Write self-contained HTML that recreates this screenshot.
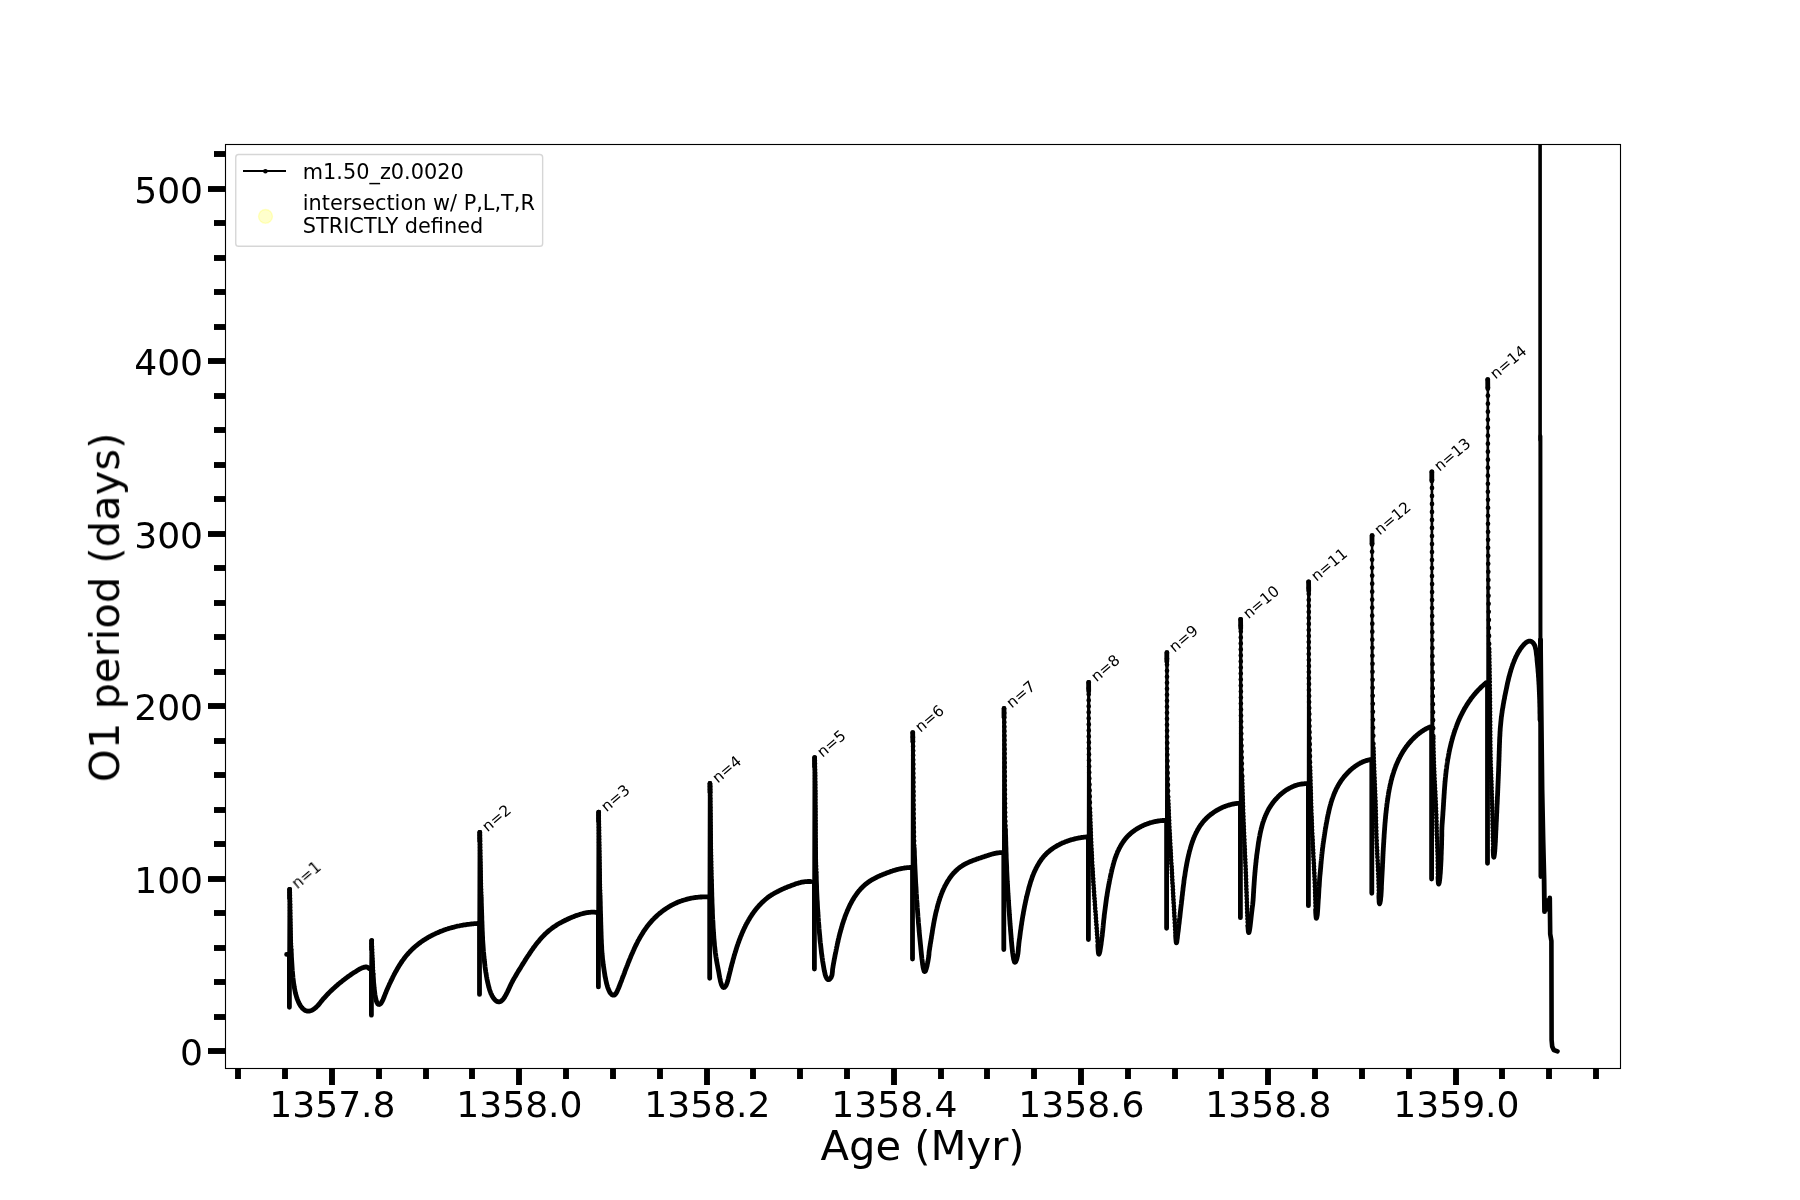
<!DOCTYPE html>
<html lang="en"><head><meta charset="utf-8"><title>O1 period vs Age</title>
<style>html,body{margin:0;padding:0;background:#fff;width:1800px;height:1200px;overflow:hidden}</style>
</head><body>
<svg width="1800" height="1200" viewBox="0 0 1800 1200" style="display:block;font-family:'DejaVu Sans', 'Liberation Sans', sans-serif">
<rect width="1800" height="1200" fill="#fff"/>
<defs><clipPath id="ax"><rect x="225" y="144" width="1395" height="924"/></clipPath></defs>
<g clip-path="url(#ax)" fill="none" stroke="#000" stroke-linecap="round" stroke-linejoin="round">
<path stroke-width="4.8" d="M286.6,954.4 L289.4,954.4 M291.1,950.0L291.2,951.5L291.3,953.0L291.4,954.6L291.4,956.1L291.5,957.6L291.6,959.2L291.7,960.8L291.8,962.4L291.9,964.0L292.0,965.6L292.1,967.2L292.2,968.9L292.3,970.5L292.5,972.2L292.6,973.9L292.8,975.5L292.9,977.2L293.1,978.8L293.3,980.4L293.5,982.1L293.7,983.7L294.0,985.3L294.2,986.8L294.5,988.4L294.8,989.9L295.1,991.4L295.4,992.9L295.8,994.3L296.2,995.7L296.6,997.1L297.0,998.4L297.5,999.7L298.0,1000.9L298.5,1002.1L299.0,1003.2L299.6,1004.3L300.2,1005.3L300.8,1006.2L301.5,1007.1L302.2,1008.0L302.9,1008.7L303.6,1009.3L304.4,1009.9L305.2,1010.4L306.0,1010.7L306.9,1011.0L307.7,1011.1L308.6,1011.1L309.5,1011.0L310.4,1010.8L311.3,1010.5L312.2,1010.1L313.1,1009.6L314.0,1009.0L314.8,1008.4L315.7,1007.7L316.5,1006.9L317.3,1006.1L318.1,1005.3L318.9,1004.4L319.6,1003.5L320.3,1002.6L321.1,1001.6L321.8,1000.7L322.6,999.7L323.5,998.7L324.3,997.8L325.2,996.8L326.1,995.8L327.0,994.8L328.0,993.9L328.9,992.9L329.9,991.9L330.9,990.9L331.9,990.0L332.9,989.0L334.0,988.1L335.0,987.1L336.0,986.2L337.1,985.3L338.1,984.4L339.2,983.5L340.2,982.7L341.3,981.8L342.3,981.0L343.3,980.2L344.4,979.4L345.4,978.6L346.5,977.8L347.5,977.0L348.6,976.2L349.7,975.5L350.7,974.8L351.8,974.0L352.9,973.3L354.0,972.6L355.1,971.9L356.2,971.2L357.3,970.5L358.4,969.8L359.5,969.2L360.6,968.6L361.7,968.1L362.7,967.7L363.7,967.4L364.7,967.1L365.6,967.0L366.4,967.0L367.2,967.1L367.9,967.4L368.5,967.9L369.0,968.5 M373.1,974.2L373.3,976.9L373.5,979.6L373.6,982.3L373.9,985.0L374.1,987.6L374.4,990.1L374.7,992.6L375.0,994.9L375.4,997.0L375.8,998.9L376.2,1000.6L376.7,1002.0L377.3,1003.1L377.8,1004.0L378.5,1004.4L379.1,1004.5L379.9,1004.2L380.6,1003.6L381.3,1002.8L381.9,1001.8L382.5,1000.7L383.1,999.5L383.6,998.2L384.1,997.0L384.5,995.8L385.0,994.6L385.4,993.5L385.9,992.4L386.3,991.3L386.7,990.3L387.2,989.3L387.6,988.3L388.1,987.3L388.5,986.2L389.0,985.2L389.4,984.2L389.9,983.2L390.4,982.2L390.9,981.1L391.4,980.1L391.9,979.1L392.4,978.1L392.9,977.0L393.4,976.0L393.9,975.0L394.4,973.9L395.0,972.9L395.5,971.9L396.1,970.9L396.7,969.9L397.2,968.9L397.8,967.9L398.4,966.9L399.0,965.9L399.7,964.9L400.3,963.9L400.9,963.0L401.6,962.0L402.2,961.0L402.9,960.1L403.6,959.2L404.3,958.2L405.0,957.3L405.7,956.4L406.4,955.5L407.2,954.6L407.9,953.8L408.7,952.9L409.5,952.1L410.3,951.2L411.1,950.4L411.9,949.6L412.7,948.8L413.5,948.1L414.4,947.3L415.3,946.5L416.1,945.8L417.0,945.1L417.9,944.4L418.8,943.7L419.7,943.0L420.6,942.3L421.6,941.6L422.5,941.0L423.5,940.3L424.4,939.7L425.4,939.1L426.4,938.5L427.4,937.9L428.3,937.3L429.3,936.7L430.4,936.2L431.4,935.7L432.4,935.1L433.4,934.6L434.5,934.1L435.5,933.6L436.6,933.1L437.6,932.7L438.7,932.2L439.7,931.8L440.8,931.3L441.9,930.9L443.0,930.5L444.0,930.1L445.1,929.7L446.2,929.3L447.3,929.0L448.4,928.6L449.5,928.3L450.6,928.0L451.8,927.7L452.9,927.3L454.0,927.1L455.1,926.8L456.2,926.5L457.4,926.2L458.5,926.0L459.6,925.8L460.7,925.5L461.9,925.3L463.0,925.1L464.1,924.9L465.3,924.8L466.4,924.6L467.5,924.4L468.7,924.3L469.8,924.2L470.9,924.0L472.1,923.9L473.2,923.8L474.3,923.7L475.4,923.7L476.6,923.6L477.7,923.5L478.8,923.5 M481.2,897.8L481.3,899.4L481.3,901.0L481.3,902.5L481.4,904.1L481.4,905.6L481.5,907.2L481.5,908.7L481.6,910.3L481.6,911.8L481.7,913.3L481.7,914.9L481.8,916.4L481.8,917.9L481.8,919.4L481.9,920.9L482.0,922.5L482.0,924.0L482.1,925.5L482.1,927.0L482.2,928.5L482.2,930.0L482.3,931.5L482.4,932.9L482.4,934.4L482.5,935.9L482.6,937.4L482.6,938.9L482.7,940.3L482.8,941.8L482.9,943.3L483.0,944.7L483.1,946.2L483.2,947.7L483.3,949.1L483.4,950.6L483.5,952.0L483.7,953.5L483.8,954.9L483.9,956.4L484.1,957.8L484.2,959.3L484.4,960.7L484.5,962.1L484.7,963.6L484.9,965.0L485.0,966.5L485.2,967.9L485.4,969.3L485.6,970.8L485.8,972.2L486.1,973.6L486.3,975.0L486.5,976.4L486.8,977.8L487.0,979.2L487.3,980.6L487.6,981.9L487.9,983.2L488.2,984.5L488.5,985.8L488.8,987.1L489.2,988.3L489.5,989.4L489.9,990.6L490.3,991.7L490.7,992.8L491.1,993.8L491.6,994.7L492.0,995.7L492.5,996.5L493.0,997.4L493.5,998.1L494.0,998.8L494.6,999.5L495.2,1000.1L495.7,1000.6L496.4,1001.0L497.0,1001.4L497.6,1001.6L498.2,1001.8L498.9,1001.9L499.5,1001.8L500.2,1001.6L500.8,1001.3L501.5,1000.9L502.1,1000.3L502.7,999.7L503.3,999.0L503.8,998.3L504.4,997.5L504.9,996.6L505.4,995.8L505.9,994.9L506.4,993.9L506.9,993.0L507.4,992.0L507.9,990.9L508.4,989.9L508.9,988.8L509.4,987.7L509.9,986.6L510.4,985.5L510.9,984.4L511.5,983.2L512.1,982.1L512.7,980.9L513.3,979.7L514.0,978.6L514.7,977.4L515.4,976.2L516.1,975.0L516.8,973.8L517.5,972.6L518.2,971.4L519.0,970.2L519.7,969.0L520.5,967.8L521.2,966.6L521.9,965.4L522.7,964.2L523.4,963.0L524.2,961.8L524.9,960.6L525.7,959.4L526.4,958.2L527.2,957.1L527.9,955.9L528.7,954.8L529.5,953.6L530.2,952.5L531.0,951.3L531.8,950.2L532.6,949.1L533.3,948.0L534.1,946.9L534.9,945.9L535.7,944.8L536.5,943.8L537.3,942.8L538.1,941.8L539.0,940.8L539.8,939.8L540.6,938.8L541.4,937.9L542.3,937.0L543.1,936.1L544.0,935.2L544.9,934.3L545.7,933.5L546.6,932.7L547.5,931.9L548.4,931.1L549.3,930.3L550.2,929.6L551.2,928.9L552.1,928.2L553.0,927.5L554.0,926.8L554.9,926.2L555.9,925.6L556.8,924.9L557.8,924.3L558.8,923.7L559.8,923.2L560.8,922.6L561.8,922.1L562.8,921.5L563.9,921.0L564.9,920.5L565.9,920.0L567.0,919.5L568.0,919.0L569.1,918.5L570.2,918.0L571.3,917.6L572.3,917.1L573.4,916.7L574.5,916.2L575.6,915.8L576.8,915.4L577.9,915.0L579.0,914.7L580.1,914.3L581.2,914.0L582.3,913.7L583.4,913.4L584.6,913.1L585.7,912.9L586.8,912.7L587.9,912.5L589.0,912.4L590.1,912.3L591.2,912.2L592.2,912.2L593.3,912.2L594.4,912.2L595.4,912.3L596.5,912.4L597.5,912.6 M600.1,895.9L600.1,897.5L600.2,899.1L600.2,900.6L600.3,902.2L600.3,903.8L600.3,905.3L600.4,906.9L600.4,908.5L600.4,910.1L600.5,911.6L600.5,913.2L600.6,914.8L600.6,916.4L600.7,918.0L600.7,919.6L600.7,921.2L600.8,922.8L600.8,924.4L600.9,926.1L600.9,927.7L601.0,929.4L601.0,931.0L601.1,932.6L601.1,934.3L601.2,935.9L601.2,937.5L601.3,939.1L601.4,940.7L601.4,942.3L601.5,943.9L601.6,945.4L601.7,947.0L601.7,948.5L601.8,949.9L601.9,951.4L602.0,952.8L602.1,954.2L602.3,955.5L602.4,956.9L602.5,958.2L602.6,959.4L602.8,960.7L602.9,961.9L603.1,963.2L603.2,964.4L603.4,965.7L603.6,966.9L603.8,968.2L604.0,969.5L604.2,970.8L604.4,972.1L604.6,973.4L604.8,974.7L605.0,976.1L605.3,977.4L605.6,978.7L605.8,980.0L606.1,981.3L606.4,982.6L606.7,983.8L607.0,985.0L607.4,986.1L607.7,987.3L608.1,988.3L608.5,989.3L608.9,990.3L609.3,991.2L609.7,992.0L610.1,992.7L610.6,993.4L611.1,993.9L611.6,994.4L612.1,994.8L612.6,995.0L613.1,995.2L613.6,995.2L614.1,995.2L614.5,995.0L614.9,994.7L615.3,994.3L615.7,993.8L616.1,993.2L616.5,992.6L616.9,991.8L617.3,991.1L617.6,990.2L618.0,989.4L618.4,988.5L618.8,987.5L619.2,986.5L619.6,985.5L620.0,984.5L620.4,983.4L620.8,982.3L621.3,981.2L621.7,980.1L622.1,978.9L622.6,977.7L623.0,976.5L623.5,975.3L624.0,974.0L624.5,972.8L624.9,971.5L625.4,970.2L625.9,968.9L626.4,967.6L626.9,966.2L627.5,964.9L628.0,963.5L628.5,962.2L629.1,960.8L629.6,959.5L630.2,958.1L630.7,956.8L631.3,955.4L631.9,954.0L632.5,952.7L633.1,951.3L633.7,950.0L634.3,948.6L634.9,947.3L635.5,946.0L636.2,944.7L636.8,943.4L637.5,942.1L638.1,940.8L638.8,939.6L639.5,938.3L640.2,937.1L640.9,935.9L641.6,934.8L642.3,933.6L643.0,932.5L643.7,931.3L644.5,930.3L645.2,929.2L646.0,928.1L646.7,927.1L647.5,926.1L648.3,925.1L649.1,924.1L649.9,923.1L650.7,922.2L651.5,921.2L652.3,920.3L653.2,919.4L654.0,918.6L654.8,917.7L655.7,916.9L656.6,916.1L657.4,915.3L658.3,914.5L659.2,913.7L660.1,913.0L661.0,912.3L661.9,911.5L662.8,910.9L663.7,910.2L664.7,909.5L665.6,908.9L666.5,908.3L667.5,907.7L668.4,907.1L669.4,906.5L670.4,905.9L671.3,905.4L672.3,904.9L673.3,904.4L674.3,903.9L675.3,903.4L676.2,903.0L677.2,902.5L678.2,902.1L679.2,901.7L680.2,901.3L681.2,901.0L682.3,900.6L683.3,900.3L684.3,900.0L685.3,899.7L686.3,899.4L687.3,899.1L688.3,898.8L689.4,898.6L690.4,898.4L691.4,898.2L692.4,898.0L693.4,897.8L694.5,897.6L695.5,897.5L696.5,897.4L697.5,897.3L698.5,897.2L699.5,897.1L700.5,897.0L701.5,897.0L702.5,896.9L703.5,896.9L704.5,896.9L705.5,896.9L706.5,896.9L707.5,896.9L708.5,897.0 M711.4,880.7L711.5,882.8L711.6,884.9L711.6,887.0L711.7,889.2L711.7,891.3L711.8,893.4L711.8,895.5L711.9,897.7L712.0,899.8L712.0,901.9L712.1,904.1L712.2,906.2L712.3,908.3L712.4,910.5L712.4,912.7L712.5,914.8L712.6,917.0L712.7,919.2L712.9,921.4L713.0,923.6L713.1,925.8L713.2,928.1L713.4,930.3L713.5,932.5L713.7,934.8L713.8,937.0L714.0,939.2L714.2,941.3L714.4,943.4L714.5,945.5L714.8,947.5L715.0,949.5L715.2,951.3L715.4,953.1L715.7,954.9L715.9,956.6L716.2,958.2L716.4,959.8L716.7,961.4L717.0,963.0L717.3,964.6L717.6,966.1L717.9,967.7L718.2,969.2L718.5,970.8L718.8,972.4L719.1,974.1L719.4,975.8L719.7,977.5L720.1,979.2L720.4,980.8L720.8,982.4L721.2,983.8L721.6,985.0L722.1,986.0L722.6,986.8L723.2,987.3L723.7,987.5L724.3,987.4L724.9,987.0L725.5,986.3L726.0,985.5L726.5,984.4L727.0,983.2L727.4,981.9L727.8,980.5L728.2,979.1L728.5,977.8L728.8,976.5L729.1,975.3L729.4,974.1L729.7,973.1L729.9,972.1L730.2,971.1L730.4,970.2L730.6,969.4L730.8,968.5L731.0,967.7L731.2,966.9L731.4,966.1L731.6,965.3L731.8,964.5L732.0,963.7L732.3,962.9L732.5,962.1L732.7,961.3L732.9,960.5L733.1,959.7L733.3,958.9L733.6,958.1L733.8,957.3L734.0,956.5L734.2,955.7L734.5,954.9L734.7,954.0L735.0,953.2L735.2,952.4L735.5,951.6L735.7,950.8L736.0,950.0L736.2,949.1L736.5,948.3L736.7,947.5L737.0,946.7L737.3,945.9L737.5,945.1L737.8,944.3L738.1,943.4L738.4,942.6L738.7,941.8L739.0,941.0L739.3,940.2L739.6,939.4L739.9,938.6L740.2,937.8L740.5,937.0L740.8,936.2L741.2,935.4L741.5,934.6L741.8,933.8L742.2,933.0L742.5,932.2L742.9,931.4L743.2,930.6L743.6,929.8L743.9,929.0L744.3,928.2L744.7,927.5L745.1,926.7L745.4,925.9L745.8,925.1L746.2,924.4L746.6,923.6L747.0,922.8L747.5,922.1L747.9,921.3L748.3,920.6L748.7,919.8L749.2,919.1L749.6,918.3L750.1,917.6L750.5,916.9L751.0,916.2L751.5,915.4L751.9,914.7L752.4,914.0L752.9,913.3L753.4,912.6L753.9,911.9L754.4,911.2L754.9,910.6L755.4,909.9L756.0,909.2L756.5,908.5L757.1,907.9L757.6,907.2L758.2,906.6L758.7,906.0L759.3,905.3L759.9,904.7L760.5,904.1L761.1,903.5L761.7,902.9L762.3,902.3L762.9,901.7L763.5,901.1L764.2,900.6L764.8,900.0L765.4,899.5L766.1,898.9L766.8,898.4L767.4,897.8L768.1,897.3L768.8,896.8L769.5,896.3L770.2,895.8L770.9,895.4L771.6,894.9L772.4,894.4L773.1,894.0L773.9,893.5L774.6,893.1L775.4,892.7L776.1,892.3L776.9,891.9L777.7,891.5L778.5,891.1L779.2,890.7L780.0,890.3L780.8,889.9L781.6,889.6L782.4,889.2L783.2,888.8L784.0,888.5L784.8,888.1L785.6,887.8L786.4,887.5L787.2,887.1L788.0,886.8L788.8,886.5L789.6,886.2L790.4,885.9L791.2,885.6L792.0,885.3L792.8,885.0L793.6,884.7L794.4,884.4L795.2,884.1L796.0,883.8L796.8,883.5L797.6,883.3L798.4,883.1L799.2,882.8L800.1,882.6L800.9,882.4L801.7,882.2L802.6,882.1L803.5,881.9L804.3,881.8L805.2,881.7L806.2,881.6L807.1,881.6L808.0,881.5L809.0,881.5L810.0,881.5L811.0,881.6 M816.1,872.6L816.2,874.9L816.3,877.1L816.3,879.4L816.4,881.6L816.5,883.9L816.6,886.1L816.6,888.4L816.7,890.6L816.8,892.8L816.9,895.1L817.0,897.3L817.1,899.6L817.3,901.8L817.4,904.0L817.5,906.3L817.6,908.5L817.8,910.7L817.9,913.0L818.1,915.2L818.2,917.4L818.4,919.6L818.5,921.7L818.7,923.9L818.9,926.0L819.0,928.2L819.2,930.3L819.4,932.4L819.6,934.5L819.8,936.5L819.9,938.5L820.1,940.5L820.3,942.5L820.6,944.4L820.8,946.4L821.0,948.2L821.2,950.1L821.4,951.9L821.6,953.7L821.9,955.5L822.1,957.3L822.4,959.0L822.6,960.8L822.9,962.6L823.2,964.3L823.5,966.1L823.8,967.8L824.1,969.6L824.4,971.2L824.8,972.7L825.1,974.2L825.5,975.5L825.9,976.7L826.4,977.7L826.8,978.5L827.3,979.2L827.8,979.5L828.3,979.7L828.9,979.6L829.4,979.4L829.9,979.0L830.4,978.4L830.9,977.7L831.3,977.0L831.6,976.2L831.9,975.4L832.1,974.5L832.2,973.7L832.3,972.8L832.4,971.9L832.5,971.0L832.5,970.2L832.6,969.3L832.7,968.5L832.9,967.6L833.0,966.8L833.1,965.9L833.3,965.1L833.4,964.2L833.6,963.4L833.7,962.6L833.9,961.7L834.0,960.9L834.2,960.1L834.3,959.2L834.5,958.4L834.7,957.6L834.8,956.7L835.0,955.9L835.1,955.1L835.3,954.2L835.5,953.4L835.6,952.6L835.8,951.8L836.0,950.9L836.1,950.1L836.3,949.3L836.5,948.4L836.6,947.6L836.8,946.8L837.0,946.0L837.2,945.1L837.3,944.3L837.5,943.5L837.7,942.7L837.9,941.9L838.1,941.0L838.2,940.2L838.4,939.4L838.6,938.6L838.8,937.8L839.0,936.9L839.2,936.1L839.4,935.3L839.6,934.5L839.8,933.7L840.0,932.9L840.3,932.0L840.5,931.2L840.7,930.4L840.9,929.6L841.2,928.8L841.4,928.0L841.6,927.2L841.9,926.4L842.1,925.5L842.3,924.7L842.6,923.9L842.8,923.1L843.1,922.3L843.4,921.5L843.6,920.7L843.9,919.9L844.2,919.1L844.5,918.3L844.7,917.5L845.0,916.7L845.3,915.9L845.6,915.1L845.9,914.3L846.2,913.5L846.6,912.7L846.9,911.9L847.2,911.1L847.5,910.3L847.9,909.6L848.2,908.8L848.6,908.0L848.9,907.2L849.3,906.5L849.6,905.7L850.0,904.9L850.4,904.2L850.8,903.4L851.2,902.7L851.6,901.9L852.0,901.2L852.4,900.4L852.8,899.7L853.3,899.0L853.7,898.3L854.1,897.6L854.6,896.8L855.1,896.1L855.5,895.5L856.0,894.8L856.5,894.1L857.0,893.4L857.5,892.8L858.0,892.1L858.5,891.4L859.1,890.8L859.6,890.2L860.2,889.5L860.7,888.9L861.3,888.3L861.9,887.7L862.4,887.1L863.0,886.6L863.6,886.0L864.3,885.4L864.9,884.9L865.5,884.3L866.2,883.8L866.8,883.3L867.5,882.8L868.2,882.3L868.9,881.8L869.6,881.3L870.3,880.8L871.0,880.4L871.7,879.9L872.5,879.5L873.2,879.1L874.0,878.7L874.7,878.3L875.5,877.9L876.3,877.5L877.0,877.1L877.8,876.7L878.6,876.3L879.4,876.0L880.2,875.6L881.0,875.3L881.8,875.0L882.6,874.6L883.4,874.3L884.1,874.0L884.9,873.7L885.7,873.4L886.5,873.1L887.3,872.8L888.1,872.5L888.9,872.2L889.7,871.9L890.5,871.6L891.3,871.3L892.1,871.1L892.9,870.8L893.6,870.5L894.4,870.3L895.2,870.1L896.0,869.8L896.8,869.6L897.6,869.4L898.5,869.2L899.3,869.0L900.1,868.8L901.0,868.6L901.8,868.5L902.7,868.3L903.5,868.2L904.4,868.0L905.3,867.9L906.2,867.8L907.1,867.7L908.1,867.6L909.0,867.6L910.0,867.5L911.0,867.5 M914.2,847.8L914.3,849.8L914.4,851.9L914.4,854.0L914.5,856.0L914.6,858.1L914.7,860.2L914.7,862.3L914.8,864.3L914.9,866.4L915.0,868.5L915.1,870.6L915.2,872.6L915.3,874.7L915.4,876.8L915.5,878.9L915.6,881.0L915.7,883.0L915.8,885.1L916.0,887.2L916.1,889.3L916.2,891.4L916.3,893.4L916.5,895.5L916.6,897.6L916.7,899.7L916.9,901.7L917.0,903.8L917.2,905.9L917.3,907.9L917.5,910.0L917.6,912.1L917.8,914.1L917.9,916.2L918.1,918.3L918.3,920.3L918.4,922.4L918.6,924.4L918.8,926.5L919.0,928.5L919.1,930.6L919.3,932.6L919.5,934.7L919.7,936.7L919.9,938.7L920.1,940.8L920.3,942.8L920.5,944.8L920.7,946.8L920.9,948.9L921.1,950.9L921.3,952.9L921.5,954.9L921.7,956.9L921.9,958.8L922.2,960.7L922.4,962.6L922.6,964.3L922.9,965.9L923.1,967.3L923.4,968.6L923.7,969.7L923.9,970.5L924.2,971.2L924.5,971.5L924.9,971.5L925.2,971.3L925.6,970.7L925.9,969.8L926.3,968.7L926.7,967.2L927.1,965.6L927.4,963.9L927.8,962.1L928.1,960.4L928.4,958.7L928.6,957.2L928.8,955.9L928.9,954.9L929.0,953.9L929.0,953.1L929.1,952.2L929.2,951.4L929.3,950.5L929.5,949.7L929.6,948.9L929.7,948.1L929.8,947.2L930.0,946.4L930.1,945.6L930.2,944.8L930.3,944.0L930.5,943.2L930.6,942.4L930.7,941.6L930.9,940.8L931.0,940.0L931.1,939.2L931.3,938.4L931.4,937.6L931.5,936.8L931.6,936.0L931.8,935.2L931.9,934.4L932.0,933.6L932.2,932.8L932.3,932.0L932.4,931.2L932.5,930.4L932.7,929.5L932.8,928.7L932.9,927.9L933.1,927.1L933.2,926.3L933.4,925.5L933.5,924.7L933.6,923.9L933.8,923.1L933.9,922.3L934.1,921.5L934.2,920.7L934.4,919.9L934.5,919.1L934.7,918.3L934.9,917.5L935.0,916.7L935.2,915.9L935.4,915.1L935.5,914.3L935.7,913.5L935.9,912.7L936.1,911.9L936.3,911.1L936.5,910.3L936.7,909.5L936.9,908.8L937.1,908.0L937.3,907.2L937.5,906.4L937.7,905.6L937.9,904.8L938.1,904.0L938.4,903.2L938.6,902.4L938.8,901.6L939.1,900.9L939.3,900.1L939.6,899.3L939.8,898.5L940.1,897.7L940.4,896.9L940.7,896.2L940.9,895.4L941.2,894.6L941.5,893.8L941.8,893.1L942.1,892.3L942.4,891.5L942.8,890.8L943.1,890.0L943.4,889.3L943.8,888.5L944.1,887.8L944.5,887.0L944.8,886.3L945.2,885.6L945.6,884.9L946.0,884.1L946.4,883.4L946.8,882.7L947.2,882.0L947.6,881.3L948.0,880.6L948.5,879.9L948.9,879.3L949.3,878.6L949.8,877.9L950.3,877.3L950.7,876.6L951.2,876.0L951.7,875.4L952.2,874.7L952.7,874.1L953.3,873.5L953.8,872.9L954.3,872.3L954.9,871.8L955.5,871.2L956.0,870.6L956.6,870.1L957.2,869.6L957.8,869.0L958.4,868.5L959.0,868.0L959.7,867.5L960.3,867.0L961.0,866.6L961.7,866.1L962.3,865.7L963.0,865.2L963.7,864.8L964.4,864.4L965.2,864.0L965.9,863.6L966.6,863.3L967.4,862.9L968.1,862.5L968.9,862.2L969.7,861.8L970.4,861.5L971.2,861.2L972.0,860.9L972.8,860.6L973.6,860.3L974.4,860.0L975.2,859.7L976.0,859.4L976.8,859.1L977.6,858.8L978.4,858.6L979.2,858.3L980.0,858.0L980.8,857.8L981.6,857.5L982.4,857.2L983.2,857.0L983.9,856.7L984.7,856.4L985.5,856.2L986.3,855.9L987.0,855.7L987.8,855.4L988.5,855.2L989.3,854.9L990.1,854.7L990.8,854.5L991.6,854.2L992.3,854.0L993.1,853.8L993.9,853.6L994.7,853.5L995.4,853.3L996.2,853.1L997.0,853.0L997.8,852.9L998.6,852.8L999.5,852.7L1000.3,852.7L1001.1,852.6L1002.0,852.6 M1005.5,829.4L1005.5,831.6L1005.5,833.7L1005.6,835.9L1005.7,838.0L1005.7,840.2L1005.8,842.3L1005.8,844.4L1005.9,846.6L1006.0,848.7L1006.0,850.8L1006.1,852.9L1006.2,855.0L1006.2,857.1L1006.3,859.2L1006.4,861.3L1006.5,863.3L1006.6,865.4L1006.7,867.5L1006.7,869.5L1006.8,871.6L1006.9,873.6L1007.0,875.7L1007.1,877.7L1007.2,879.8L1007.3,881.8L1007.5,883.9L1007.6,885.9L1007.7,887.9L1007.8,890.0L1007.9,892.0L1008.0,894.1L1008.2,896.1L1008.3,898.2L1008.4,900.3L1008.6,902.3L1008.7,904.4L1008.8,906.5L1009.0,908.6L1009.1,910.6L1009.3,912.7L1009.4,914.8L1009.6,917.0L1009.7,919.1L1009.9,921.2L1010.0,923.3L1010.2,925.5L1010.4,927.6L1010.5,929.8L1010.7,932.0L1010.9,934.2L1011.1,936.4L1011.2,938.5L1011.4,940.7L1011.6,942.8L1011.8,944.9L1012.0,946.9L1012.2,948.9L1012.4,950.8L1012.6,952.6L1012.9,954.4L1013.1,956.0L1013.4,957.6L1013.6,959.0L1013.9,960.1L1014.2,961.1L1014.4,961.8L1014.7,962.2L1015.1,962.3L1015.4,962.1L1015.7,961.7L1016.0,961.0L1016.4,960.2L1016.7,959.3L1017.0,958.2L1017.2,957.1L1017.5,956.0L1017.7,954.9L1017.9,953.9L1018.0,952.9L1018.1,952.0L1018.2,951.2L1018.3,950.4L1018.3,949.7L1018.4,948.9L1018.4,948.2L1018.5,947.4L1018.6,946.6L1018.7,945.8L1018.8,945.0L1018.8,944.2L1018.9,943.4L1019.0,942.6L1019.1,941.8L1019.2,940.9L1019.3,940.1L1019.4,939.3L1019.6,938.5L1019.7,937.7L1019.8,936.8L1019.9,936.0L1020.0,935.2L1020.1,934.4L1020.2,933.6L1020.3,932.8L1020.4,932.0L1020.5,931.2L1020.6,930.3L1020.8,929.5L1020.9,928.7L1021.0,927.9L1021.1,927.1L1021.2,926.3L1021.3,925.5L1021.5,924.7L1021.6,923.9L1021.7,923.1L1021.8,922.3L1021.9,921.5L1022.1,920.7L1022.2,919.9L1022.3,919.1L1022.4,918.3L1022.6,917.5L1022.7,916.7L1022.8,916.0L1023.0,915.2L1023.1,914.4L1023.3,913.6L1023.4,912.8L1023.5,912.0L1023.7,911.2L1023.8,910.4L1024.0,909.6L1024.1,908.8L1024.3,908.0L1024.4,907.2L1024.6,906.5L1024.7,905.7L1024.9,904.9L1025.1,904.1L1025.2,903.3L1025.4,902.5L1025.6,901.7L1025.7,900.9L1025.9,900.1L1026.1,899.3L1026.3,898.5L1026.4,897.7L1026.6,897.0L1026.8,896.2L1027.0,895.4L1027.2,894.6L1027.4,893.8L1027.6,893.0L1027.8,892.2L1028.0,891.4L1028.2,890.6L1028.4,889.8L1028.6,889.0L1028.8,888.2L1029.0,887.4L1029.2,886.6L1029.5,885.8L1029.7,885.0L1029.9,884.3L1030.2,883.5L1030.4,882.7L1030.6,881.9L1030.9,881.1L1031.2,880.3L1031.4,879.6L1031.7,878.8L1032.0,878.0L1032.2,877.2L1032.5,876.5L1032.8,875.7L1033.1,874.9L1033.4,874.2L1033.7,873.4L1034.0,872.7L1034.3,871.9L1034.7,871.2L1035.0,870.5L1035.4,869.7L1035.7,869.0L1036.1,868.3L1036.4,867.6L1036.8,866.9L1037.2,866.1L1037.6,865.4L1038.0,864.8L1038.4,864.1L1038.8,863.4L1039.2,862.7L1039.6,862.0L1040.1,861.4L1040.5,860.7L1041.0,860.1L1041.4,859.4L1041.9,858.8L1042.4,858.2L1042.9,857.5L1043.4,856.9L1043.9,856.3L1044.4,855.7L1045.0,855.2L1045.5,854.6L1046.1,854.0L1046.6,853.4L1047.2,852.9L1047.8,852.4L1048.4,851.8L1049.0,851.3L1049.6,850.8L1050.3,850.3L1050.9,849.8L1051.6,849.3L1052.2,848.8L1052.9,848.4L1053.6,847.9L1054.3,847.4L1055.0,847.0L1055.7,846.6L1056.4,846.2L1057.1,845.7L1057.8,845.3L1058.5,845.0L1059.3,844.6L1060.0,844.2L1060.7,843.8L1061.5,843.5L1062.2,843.1L1063.0,842.8L1063.8,842.5L1064.5,842.2L1065.3,841.8L1066.1,841.5L1066.9,841.3L1067.6,841.0L1068.4,840.7L1069.2,840.4L1070.0,840.2L1070.8,839.9L1071.6,839.7L1072.3,839.5L1073.1,839.3L1073.9,839.1L1074.7,838.9L1075.5,838.7L1076.3,838.5L1077.1,838.3L1077.8,838.2L1078.6,838.0L1079.4,837.9L1080.2,837.8L1080.9,837.6L1081.7,837.5L1082.5,837.4L1083.3,837.3L1084.0,837.2L1084.8,837.2L1085.5,837.1L1086.3,837.0L1087.0,837.0 M1097.9,946.1L1098.0,947.6L1098.1,949.1L1098.2,950.5L1098.3,951.8L1098.4,952.8L1098.6,953.6L1098.7,954.1L1098.9,954.2L1099.2,953.9L1099.4,953.2L1099.7,952.3L1100.0,951.0L1100.2,949.5L1100.5,947.9L1100.8,946.0L1101.1,944.1L1101.3,942.1L1101.6,940.2L1101.8,938.2L1102.1,936.4L1102.3,934.7L1102.4,933.2L1102.6,931.9L1102.7,930.8L1102.8,929.9L1102.9,929.1L1102.9,928.4L1103.0,927.8L1103.1,927.1L1103.1,926.4L1103.2,925.8L1103.3,925.0L1103.3,924.3L1103.4,923.6L1103.5,922.8L1103.6,922.1L1103.6,921.3L1103.7,920.5L1103.8,919.8L1103.9,919.0L1104.0,918.2L1104.1,917.4L1104.2,916.6L1104.2,915.9L1104.3,915.1L1104.4,914.3L1104.5,913.5L1104.6,912.8L1104.7,912.0L1104.8,911.2L1104.9,910.5L1105.0,909.7L1105.1,909.0L1105.2,908.2L1105.3,907.4L1105.4,906.7L1105.5,905.9L1105.6,905.2L1105.7,904.4L1105.8,903.7L1105.9,902.9L1106.0,902.2L1106.1,901.4L1106.2,900.7L1106.3,899.9L1106.4,899.2L1106.5,898.4L1106.6,897.7L1106.7,896.9L1106.9,896.2L1107.0,895.4L1107.1,894.7L1107.2,894.0L1107.3,893.2L1107.4,892.5L1107.6,891.7L1107.7,891.0L1107.8,890.2L1107.9,889.5L1108.1,888.8L1108.2,888.0L1108.3,887.3L1108.5,886.5L1108.6,885.8L1108.7,885.0L1108.9,884.3L1109.0,883.6L1109.2,882.8L1109.3,882.1L1109.4,881.3L1109.6,880.6L1109.7,879.8L1109.9,879.1L1110.0,878.3L1110.2,877.6L1110.4,876.8L1110.5,876.1L1110.7,875.3L1110.8,874.6L1111.0,873.8L1111.2,873.1L1111.3,872.3L1111.5,871.6L1111.7,870.8L1111.8,870.1L1112.0,869.3L1112.2,868.6L1112.4,867.8L1112.6,867.1L1112.8,866.3L1113.0,865.6L1113.2,864.8L1113.4,864.1L1113.6,863.4L1113.8,862.6L1114.0,861.9L1114.2,861.1L1114.5,860.4L1114.7,859.7L1114.9,858.9L1115.2,858.2L1115.4,857.5L1115.7,856.8L1116.0,856.1L1116.2,855.3L1116.5,854.6L1116.8,853.9L1117.1,853.2L1117.3,852.5L1117.6,851.8L1117.9,851.1L1118.3,850.5L1118.6,849.8L1118.9,849.1L1119.2,848.4L1119.6,847.8L1119.9,847.1L1120.3,846.4L1120.7,845.8L1121.0,845.2L1121.4,844.5L1121.8,843.9L1122.2,843.3L1122.6,842.6L1123.0,842.0L1123.5,841.4L1123.9,840.8L1124.3,840.2L1124.8,839.6L1125.2,839.0L1125.7,838.5L1126.2,837.9L1126.7,837.3L1127.2,836.8L1127.7,836.3L1128.2,835.7L1128.8,835.2L1129.3,834.7L1129.9,834.2L1130.4,833.7L1131.0,833.2L1131.6,832.7L1132.2,832.2L1132.8,831.7L1133.4,831.3L1134.0,830.8L1134.6,830.4L1135.2,829.9L1135.9,829.5L1136.5,829.1L1137.2,828.7L1137.8,828.3L1138.5,827.9L1139.2,827.5L1139.8,827.2L1140.5,826.8L1141.2,826.4L1141.9,826.1L1142.6,825.8L1143.3,825.4L1144.0,825.1L1144.7,824.8L1145.4,824.5L1146.2,824.2L1146.9,824.0L1147.6,823.7L1148.4,823.4L1149.1,823.2L1149.8,822.9L1150.6,822.7L1151.3,822.5L1152.1,822.3L1152.8,822.1L1153.6,821.9L1154.3,821.7L1155.1,821.6L1155.8,821.4L1156.6,821.3L1157.4,821.1L1158.1,821.0L1158.9,820.9L1159.7,820.8L1160.4,820.7L1161.2,820.6L1161.9,820.6L1162.7,820.5L1163.5,820.5L1164.2,820.4L1165.0,820.4 M1175.6,935.5L1175.7,936.8L1175.8,938.1L1175.9,939.3L1176.0,940.4L1176.1,941.4L1176.2,942.2L1176.3,942.7L1176.4,942.9L1176.5,942.9L1176.6,942.5L1176.8,941.9L1176.9,941.1L1177.0,940.1L1177.2,938.9L1177.4,937.6L1177.5,936.1L1177.7,934.6L1177.9,932.9L1178.2,931.1L1178.4,929.3L1178.6,927.4L1178.8,925.5L1179.1,923.5L1179.3,921.5L1179.5,919.5L1179.8,917.5L1180.0,915.6L1180.2,913.6L1180.4,911.7L1180.6,909.9L1180.8,908.2L1181.0,906.5L1181.2,904.9L1181.4,903.5L1181.5,902.2L1181.6,901.0L1181.8,900.0L1181.9,899.1L1182.0,898.2L1182.0,897.4L1182.1,896.7L1182.2,896.0L1182.3,895.3L1182.4,894.6L1182.5,893.8L1182.5,893.1L1182.6,892.4L1182.7,891.7L1182.8,891.0L1182.9,890.3L1183.0,889.5L1183.0,888.8L1183.1,888.1L1183.2,887.4L1183.3,886.6L1183.4,885.9L1183.5,885.2L1183.6,884.5L1183.7,883.7L1183.8,883.0L1183.9,882.3L1183.9,881.6L1184.0,880.8L1184.1,880.1L1184.2,879.4L1184.3,878.7L1184.4,877.9L1184.5,877.2L1184.7,876.5L1184.8,875.8L1184.9,875.0L1185.0,874.3L1185.1,873.6L1185.2,872.8L1185.3,872.1L1185.4,871.4L1185.6,870.6L1185.7,869.9L1185.8,869.2L1185.9,868.5L1186.0,867.7L1186.2,867.0L1186.3,866.3L1186.4,865.5L1186.6,864.8L1186.7,864.1L1186.8,863.4L1187.0,862.6L1187.1,861.9L1187.3,861.2L1187.4,860.4L1187.6,859.7L1187.7,859.0L1187.9,858.3L1188.0,857.5L1188.2,856.8L1188.4,856.1L1188.5,855.4L1188.7,854.6L1188.9,853.9L1189.1,853.2L1189.2,852.5L1189.4,851.7L1189.6,851.0L1189.8,850.3L1190.0,849.6L1190.2,848.9L1190.4,848.1L1190.6,847.4L1190.8,846.7L1191.0,846.0L1191.2,845.3L1191.4,844.6L1191.7,843.9L1191.9,843.2L1192.1,842.5L1192.4,841.8L1192.6,841.1L1192.9,840.4L1193.1,839.7L1193.4,839.0L1193.7,838.3L1193.9,837.6L1194.2,837.0L1194.5,836.3L1194.8,835.6L1195.1,834.9L1195.4,834.3L1195.7,833.6L1196.0,833.0L1196.4,832.3L1196.7,831.7L1197.0,831.0L1197.4,830.4L1197.7,829.7L1198.1,829.1L1198.5,828.5L1198.8,827.9L1199.2,827.2L1199.6,826.6L1200.0,826.0L1200.4,825.4L1200.8,824.8L1201.3,824.2L1201.7,823.7L1202.1,823.1L1202.6,822.5L1203.0,821.9L1203.5,821.4L1204.0,820.8L1204.5,820.3L1205.0,819.7L1205.5,819.2L1206.0,818.7L1206.5,818.1L1207.1,817.6L1207.6,817.1L1208.2,816.6L1208.7,816.1L1209.3,815.6L1209.9,815.2L1210.5,814.7L1211.0,814.2L1211.7,813.8L1212.3,813.3L1212.9,812.9L1213.5,812.5L1214.1,812.0L1214.8,811.6L1215.4,811.2L1216.0,810.8L1216.7,810.4L1217.3,810.0L1218.0,809.7L1218.7,809.3L1219.3,809.0L1220.0,808.6L1220.7,808.3L1221.3,808.0L1222.0,807.6L1222.7,807.3L1223.4,807.0L1224.1,806.8L1224.7,806.5L1225.4,806.2L1226.1,806.0L1226.8,805.7L1227.5,805.5L1228.2,805.3L1228.9,805.1L1229.6,804.9L1230.3,804.7L1230.9,804.5L1231.6,804.3L1232.3,804.2L1233.0,804.0L1233.7,803.9L1234.4,803.8L1235.0,803.7L1235.7,803.6L1236.4,803.5L1237.0,803.4L1237.7,803.4L1238.3,803.3L1239.0,803.3 M1247.9,925.6L1248.0,927.1L1248.1,928.6L1248.2,929.9L1248.3,931.0L1248.4,931.9L1248.6,932.4L1248.7,932.6L1248.9,932.5L1249.1,932.0L1249.3,931.3L1249.5,930.4L1249.7,929.2L1249.9,927.9L1250.1,926.4L1250.3,924.8L1250.5,923.0L1250.7,921.3L1250.9,919.5L1251.1,917.6L1251.3,915.8L1251.5,914.0L1251.7,912.3L1251.9,910.6L1252.1,908.9L1252.3,907.3L1252.5,905.9L1252.7,904.5L1252.8,903.3L1252.9,902.2L1253.0,901.2L1253.1,900.4L1253.1,899.6L1253.2,898.9L1253.2,898.1L1253.3,897.4L1253.3,896.7L1253.4,896.0L1253.4,895.2L1253.4,894.5L1253.5,893.8L1253.5,893.1L1253.6,892.3L1253.6,891.6L1253.7,890.9L1253.7,890.2L1253.7,889.4L1253.8,888.7L1253.8,888.0L1253.9,887.3L1253.9,886.5L1254.0,885.8L1254.0,885.1L1254.1,884.4L1254.1,883.7L1254.2,882.9L1254.2,882.2L1254.3,881.5L1254.3,880.8L1254.4,880.1L1254.4,879.3L1254.5,878.6L1254.5,877.9L1254.6,877.2L1254.6,876.5L1254.7,875.7L1254.8,875.0L1254.8,874.3L1254.9,873.6L1254.9,872.9L1255.0,872.1L1255.1,871.4L1255.1,870.7L1255.2,870.0L1255.3,869.3L1255.3,868.5L1255.4,867.8L1255.5,867.1L1255.5,866.4L1255.6,865.7L1255.7,865.0L1255.8,864.2L1255.8,863.5L1255.9,862.8L1256.0,862.1L1256.1,861.4L1256.1,860.6L1256.2,859.9L1256.3,859.2L1256.4,858.5L1256.5,857.8L1256.6,857.1L1256.6,856.3L1256.7,855.6L1256.8,854.9L1256.9,854.2L1257.0,853.5L1257.1,852.8L1257.2,852.0L1257.3,851.3L1257.4,850.6L1257.5,849.9L1257.6,849.2L1257.7,848.5L1257.8,847.7L1257.9,847.0L1258.0,846.3L1258.1,845.6L1258.2,844.9L1258.3,844.1L1258.4,843.4L1258.5,842.7L1258.6,842.0L1258.7,841.3L1258.9,840.6L1259.0,839.9L1259.1,839.1L1259.2,838.4L1259.4,837.7L1259.5,837.0L1259.6,836.3L1259.8,835.6L1259.9,834.9L1260.0,834.2L1260.2,833.5L1260.3,832.7L1260.5,832.0L1260.6,831.3L1260.8,830.6L1261.0,829.9L1261.1,829.2L1261.3,828.5L1261.5,827.8L1261.7,827.1L1261.8,826.5L1262.0,825.8L1262.2,825.1L1262.4,824.4L1262.6,823.7L1262.8,823.0L1263.0,822.3L1263.3,821.6L1263.5,821.0L1263.7,820.3L1264.0,819.6L1264.2,819.0L1264.5,818.3L1264.7,817.6L1265.0,817.0L1265.2,816.3L1265.5,815.6L1265.8,815.0L1266.1,814.3L1266.4,813.7L1266.7,813.0L1267.0,812.4L1267.3,811.8L1267.6,811.1L1267.9,810.5L1268.3,809.9L1268.6,809.2L1269.0,808.6L1269.3,808.0L1269.7,807.4L1270.1,806.8L1270.5,806.2L1270.9,805.6L1271.3,805.0L1271.7,804.4L1272.1,803.8L1272.5,803.2L1273.0,802.6L1273.4,802.0L1273.9,801.4L1274.3,800.9L1274.8,800.3L1275.3,799.8L1275.8,799.2L1276.3,798.7L1276.8,798.1L1277.3,797.6L1277.8,797.1L1278.3,796.5L1278.8,796.0L1279.4,795.5L1279.9,795.0L1280.4,794.5L1281.0,794.1L1281.6,793.6L1282.1,793.1L1282.7,792.7L1283.3,792.2L1283.9,791.8L1284.4,791.3L1285.0,790.9L1285.6,790.5L1286.2,790.1L1286.8,789.7L1287.5,789.3L1288.1,789.0L1288.7,788.6L1289.3,788.3L1289.9,787.9L1290.6,787.6L1291.2,787.3L1291.9,787.0L1292.5,786.7L1293.2,786.4L1293.8,786.1L1294.5,785.9L1295.1,785.6L1295.8,785.4L1296.5,785.2L1297.1,785.0L1297.8,784.8L1298.5,784.6L1299.1,784.5L1299.8,784.3L1300.5,784.2L1301.2,784.1L1301.9,784.0L1302.6,783.9L1303.2,783.8L1303.9,783.8L1304.6,783.7L1305.3,783.7L1306.0,783.7L1306.7,783.7 M1315.7,910.7L1315.7,912.4L1315.8,913.9L1315.9,915.3L1316.0,916.4L1316.1,917.3L1316.2,917.9L1316.3,918.3L1316.5,918.3L1316.6,918.0L1316.8,917.4L1316.9,916.7L1317.1,915.7L1317.3,914.7L1317.4,913.6L1317.5,912.3L1317.6,911.0L1317.7,909.5L1317.8,908.0L1317.9,906.4L1318.0,904.7L1318.1,903.0L1318.2,901.2L1318.3,899.4L1318.5,897.5L1318.6,895.6L1318.7,893.7L1318.8,891.8L1318.9,889.9L1319.0,888.0L1319.2,886.2L1319.3,884.4L1319.4,882.7L1319.5,881.1L1319.6,879.5L1319.7,878.1L1319.8,876.9L1319.9,875.7L1320.0,874.7L1320.1,873.9L1320.2,873.1L1320.2,872.4L1320.3,871.7L1320.4,871.1L1320.4,870.4L1320.5,869.7L1320.5,869.0L1320.6,868.3L1320.7,867.7L1320.7,867.0L1320.8,866.3L1320.8,865.6L1320.9,865.0L1320.9,864.3L1321.0,863.6L1321.1,863.0L1321.1,862.3L1321.2,861.6L1321.2,860.9L1321.3,860.3L1321.4,859.6L1321.4,858.9L1321.5,858.3L1321.6,857.6L1321.6,856.9L1321.7,856.3L1321.8,855.6L1321.8,854.9L1321.9,854.2L1322.0,853.6L1322.1,852.9L1322.1,852.2L1322.2,851.6L1322.3,850.9L1322.4,850.2L1322.4,849.6L1322.5,848.9L1322.6,848.2L1322.7,847.5L1322.8,846.9L1322.9,846.2L1322.9,845.5L1323.0,844.9L1323.1,844.2L1323.2,843.5L1323.3,842.9L1323.4,842.2L1323.5,841.5L1323.6,840.9L1323.7,840.2L1323.8,839.5L1323.9,838.8L1324.0,838.2L1324.1,837.5L1324.2,836.8L1324.3,836.2L1324.4,835.5L1324.5,834.8L1324.6,834.2L1324.7,833.5L1324.8,832.8L1324.9,832.2L1325.0,831.5L1325.1,830.8L1325.2,830.2L1325.3,829.5L1325.4,828.8L1325.5,828.2L1325.7,827.5L1325.8,826.8L1325.9,826.2L1326.0,825.5L1326.1,824.8L1326.2,824.2L1326.4,823.5L1326.5,822.8L1326.6,822.2L1326.7,821.5L1326.9,820.8L1327.0,820.2L1327.1,819.5L1327.2,818.8L1327.4,818.2L1327.5,817.5L1327.6,816.8L1327.8,816.2L1327.9,815.5L1328.0,814.9L1328.2,814.2L1328.3,813.5L1328.5,812.9L1328.6,812.2L1328.8,811.6L1328.9,810.9L1329.1,810.2L1329.2,809.6L1329.4,808.9L1329.5,808.3L1329.7,807.6L1329.9,807.0L1330.0,806.3L1330.2,805.7L1330.4,805.0L1330.6,804.4L1330.8,803.7L1330.9,803.1L1331.1,802.4L1331.3,801.8L1331.5,801.2L1331.7,800.5L1331.9,799.9L1332.1,799.3L1332.4,798.6L1332.6,798.0L1332.8,797.4L1333.0,796.7L1333.3,796.1L1333.5,795.5L1333.7,794.9L1334.0,794.2L1334.2,793.6L1334.5,793.0L1334.8,792.4L1335.0,791.8L1335.3,791.2L1335.6,790.6L1335.9,789.9L1336.1,789.3L1336.4,788.7L1336.7,788.1L1337.1,787.5L1337.4,787.0L1337.7,786.4L1338.0,785.8L1338.3,785.2L1338.7,784.6L1339.0,784.0L1339.4,783.4L1339.7,782.9L1340.1,782.3L1340.5,781.7L1340.8,781.2L1341.2,780.6L1341.6,780.0L1342.0,779.5L1342.4,778.9L1342.8,778.4L1343.3,777.8L1343.7,777.3L1344.1,776.8L1344.5,776.2L1345.0,775.7L1345.4,775.2L1345.9,774.7L1346.3,774.2L1346.8,773.7L1347.3,773.2L1347.7,772.7L1348.2,772.2L1348.7,771.7L1349.2,771.2L1349.7,770.8L1350.2,770.3L1350.7,769.8L1351.2,769.4L1351.7,769.0L1352.2,768.5L1352.7,768.1L1353.3,767.7L1353.8,767.3L1354.3,766.9L1354.9,766.5L1355.4,766.1L1356.0,765.7L1356.5,765.3L1357.1,765.0L1357.6,764.6L1358.2,764.3L1358.7,764.0L1359.3,763.6L1359.9,763.3L1360.4,763.0L1361.0,762.7L1361.6,762.5L1362.2,762.2L1362.7,761.9L1363.3,761.7L1363.9,761.4L1364.5,761.2L1365.1,761.0L1365.7,760.8L1366.3,760.6L1366.9,760.4L1367.5,760.3L1368.1,760.1L1368.7,760.0L1369.3,759.8L1369.9,759.7L1370.5,759.6 M1378.9,895.5L1378.9,897.3L1379.0,898.9L1379.1,900.3L1379.1,901.5L1379.2,902.5L1379.3,903.2L1379.5,903.6L1379.6,903.7L1379.8,903.4L1380.0,902.9L1380.1,902.2L1380.3,901.3L1380.5,900.2L1380.6,899.1L1380.7,897.8L1380.9,896.5L1381.0,895.0L1381.1,893.5L1381.2,891.9L1381.3,890.2L1381.4,888.5L1381.4,886.7L1381.5,884.8L1381.6,882.9L1381.7,881.0L1381.8,879.0L1381.9,877.1L1382.0,875.2L1382.1,873.3L1382.2,871.4L1382.3,869.6L1382.4,867.9L1382.5,866.2L1382.5,864.7L1382.6,863.3L1382.7,862.0L1382.7,860.9L1382.8,859.9L1382.8,859.0L1382.8,858.3L1382.9,857.6L1382.9,856.9L1382.9,856.2L1383.0,855.5L1383.0,854.8L1383.0,854.1L1383.1,853.4L1383.1,852.7L1383.1,852.0L1383.2,851.3L1383.2,850.6L1383.3,849.9L1383.3,849.2L1383.3,848.5L1383.4,847.9L1383.4,847.2L1383.5,846.5L1383.5,845.8L1383.5,845.1L1383.6,844.4L1383.6,843.7L1383.7,843.1L1383.7,842.4L1383.8,841.7L1383.8,841.0L1383.8,840.3L1383.9,839.6L1383.9,838.9L1384.0,838.3L1384.0,837.6L1384.1,836.9L1384.1,836.2L1384.1,835.5L1384.2,834.8L1384.2,834.1L1384.3,833.4L1384.3,832.8L1384.4,832.1L1384.4,831.4L1384.5,830.7L1384.5,830.0L1384.6,829.3L1384.6,828.6L1384.7,827.9L1384.7,827.3L1384.8,826.6L1384.8,825.9L1384.9,825.2L1384.9,824.5L1385.0,823.8L1385.0,823.1L1385.1,822.4L1385.2,821.8L1385.2,821.1L1385.3,820.4L1385.3,819.7L1385.4,819.0L1385.5,818.3L1385.5,817.6L1385.6,816.9L1385.6,816.3L1385.7,815.6L1385.8,814.9L1385.8,814.2L1385.9,813.5L1386.0,812.8L1386.1,812.1L1386.1,811.5L1386.2,810.8L1386.3,810.1L1386.4,809.4L1386.4,808.7L1386.5,808.0L1386.6,807.3L1386.7,806.7L1386.8,806.0L1386.8,805.3L1386.9,804.6L1387.0,803.9L1387.1,803.2L1387.2,802.6L1387.3,801.9L1387.4,801.2L1387.5,800.5L1387.6,799.8L1387.7,799.1L1387.8,798.5L1387.9,797.8L1388.0,797.1L1388.1,796.4L1388.2,795.7L1388.3,795.1L1388.4,794.4L1388.5,793.7L1388.6,793.0L1388.7,792.3L1388.9,791.7L1389.0,791.0L1389.1,790.3L1389.2,789.6L1389.4,788.9L1389.5,788.3L1389.6,787.6L1389.8,786.9L1389.9,786.2L1390.1,785.6L1390.2,784.9L1390.4,784.2L1390.5,783.6L1390.7,782.9L1390.8,782.2L1391.0,781.6L1391.1,780.9L1391.3,780.2L1391.5,779.6L1391.7,778.9L1391.8,778.2L1392.0,777.6L1392.2,776.9L1392.4,776.3L1392.6,775.6L1392.8,774.9L1393.0,774.3L1393.2,773.6L1393.4,773.0L1393.6,772.3L1393.8,771.7L1394.0,771.0L1394.2,770.4L1394.5,769.7L1394.7,769.1L1394.9,768.5L1395.2,767.8L1395.4,767.2L1395.6,766.5L1395.9,765.9L1396.1,765.3L1396.4,764.6L1396.7,764.0L1396.9,763.4L1397.2,762.7L1397.5,762.1L1397.8,761.5L1398.1,760.9L1398.3,760.2L1398.6,759.6L1398.9,759.0L1399.2,758.4L1399.6,757.8L1399.9,757.1L1400.2,756.5L1400.5,755.9L1400.9,755.3L1401.2,754.7L1401.5,754.1L1401.9,753.5L1402.2,752.9L1402.6,752.3L1402.9,751.7L1403.3,751.1L1403.7,750.6L1404.1,750.0L1404.4,749.4L1404.8,748.8L1405.2,748.2L1405.6,747.7L1406.0,747.1L1406.4,746.6L1406.8,746.0L1407.3,745.4L1407.7,744.9L1408.1,744.3L1408.5,743.8L1409.0,743.3L1409.4,742.7L1409.9,742.2L1410.3,741.7L1410.8,741.2L1411.2,740.7L1411.7,740.1L1412.2,739.6L1412.7,739.1L1413.1,738.7L1413.6,738.2L1414.1,737.7L1414.6,737.2L1415.1,736.7L1415.6,736.3L1416.2,735.8L1416.7,735.4L1417.2,734.9L1417.7,734.5L1418.3,734.1L1418.8,733.6L1419.3,733.2L1419.9,732.8L1420.4,732.4L1421.0,732.0L1421.6,731.6L1422.1,731.2L1422.7,730.8L1423.3,730.5L1423.9,730.1L1424.5,729.7L1425.1,729.4L1425.7,729.0L1426.3,728.7L1426.9,728.4L1427.5,728.1L1428.1,727.8L1428.7,727.5L1429.4,727.2L1430.0,726.9 M1438.0,877.0L1438.1,878.7L1438.2,880.1L1438.2,881.4L1438.3,882.5L1438.4,883.3L1438.5,883.8L1438.6,884.1L1438.8,884.0L1438.9,883.7L1439.1,883.1L1439.3,882.4L1439.4,881.4L1439.6,880.3L1439.7,879.1L1439.9,877.8L1440.0,876.4L1440.1,874.9L1440.3,873.3L1440.4,871.7L1440.5,869.9L1440.6,868.2L1440.7,866.4L1440.8,864.5L1440.9,862.6L1441.0,860.7L1441.1,858.8L1441.1,856.9L1441.2,855.0L1441.3,853.2L1441.3,851.3L1441.4,849.5L1441.5,847.7L1441.5,846.0L1441.6,844.4L1441.6,842.8L1441.6,841.2L1441.7,839.8L1441.7,838.4L1441.7,837.2L1441.8,836.0L1441.8,835.0L1441.8,834.1L1441.8,833.3L1441.8,832.5L1441.8,831.8L1441.8,831.2L1441.8,830.6L1441.8,830.0L1441.9,829.3L1441.9,828.7L1441.9,828.1L1441.9,827.5L1442.0,826.8L1442.0,826.2L1442.0,825.5L1442.1,824.9L1442.1,824.2L1442.2,823.6L1442.2,822.9L1442.3,822.3L1442.3,821.6L1442.4,820.9L1442.4,820.3L1442.5,819.6L1442.5,818.9L1442.6,818.2L1442.6,817.6L1442.7,816.9L1442.7,816.2L1442.8,815.6L1442.8,814.9L1442.9,814.2L1442.9,813.6L1442.9,812.9L1443.0,812.2L1443.0,811.6L1443.1,810.9L1443.1,810.3L1443.2,809.6L1443.2,808.9L1443.3,808.3L1443.3,807.6L1443.3,807.0L1443.4,806.3L1443.4,805.6L1443.5,805.0L1443.5,804.3L1443.5,803.7L1443.6,803.0L1443.6,802.3L1443.7,801.7L1443.7,801.0L1443.7,800.4L1443.8,799.7L1443.8,799.1L1443.9,798.4L1443.9,797.8L1444.0,797.1L1444.0,796.4L1444.0,795.8L1444.1,795.1L1444.1,794.5L1444.2,793.8L1444.2,793.2L1444.3,792.5L1444.3,791.9L1444.3,791.2L1444.4,790.6L1444.4,789.9L1444.5,789.3L1444.5,788.6L1444.6,788.0L1444.6,787.3L1444.7,786.7L1444.7,786.0L1444.8,785.4L1444.8,784.7L1444.9,784.1L1444.9,783.4L1445.0,782.8L1445.0,782.1L1445.1,781.5L1445.2,780.8L1445.2,780.2L1445.3,779.5L1445.3,778.9L1445.4,778.2L1445.5,777.6L1445.5,776.9L1445.6,776.3L1445.7,775.6L1445.7,775.0L1445.8,774.3L1445.9,773.7L1445.9,773.0L1446.0,772.4L1446.1,771.7L1446.2,771.0L1446.2,770.4L1446.3,769.7L1446.4,769.1L1446.5,768.4L1446.6,767.8L1446.7,767.1L1446.7,766.5L1446.8,765.8L1446.9,765.2L1447.0,764.5L1447.1,763.9L1447.2,763.2L1447.3,762.6L1447.4,761.9L1447.5,761.3L1447.6,760.6L1447.7,760.0L1447.8,759.3L1447.9,758.7L1448.1,758.0L1448.2,757.3L1448.3,756.7L1448.4,756.0L1448.5,755.4L1448.6,754.7L1448.8,754.1L1448.9,753.4L1449.0,752.8L1449.1,752.1L1449.3,751.5L1449.4,750.8L1449.5,750.2L1449.7,749.5L1449.8,748.9L1450.0,748.2L1450.1,747.6L1450.3,747.0L1450.4,746.3L1450.6,745.7L1450.7,745.0L1450.9,744.4L1451.0,743.7L1451.2,743.1L1451.3,742.5L1451.5,741.8L1451.7,741.2L1451.8,740.5L1452.0,739.9L1452.2,739.3L1452.4,738.6L1452.6,738.0L1452.7,737.3L1452.9,736.7L1453.1,736.1L1453.3,735.5L1453.5,734.8L1453.7,734.2L1453.9,733.6L1454.1,732.9L1454.3,732.3L1454.5,731.7L1454.7,731.1L1454.9,730.4L1455.1,729.8L1455.3,729.2L1455.6,728.6L1455.8,728.0L1456.0,727.3L1456.2,726.7L1456.5,726.1L1456.7,725.5L1456.9,724.9L1457.2,724.3L1457.4,723.7L1457.6,723.1L1457.9,722.4L1458.1,721.8L1458.4,721.2L1458.6,720.6L1458.9,720.0L1459.2,719.4L1459.4,718.8L1459.7,718.2L1460.0,717.6L1460.2,717.1L1460.5,716.5L1460.8,715.9L1461.1,715.3L1461.4,714.7L1461.7,714.1L1462.0,713.5L1462.3,713.0L1462.5,712.4L1462.9,711.8L1463.2,711.2L1463.5,710.7L1463.8,710.1L1464.1,709.5L1464.4,709.0L1464.7,708.4L1465.1,707.8L1465.4,707.3L1465.7,706.7L1466.1,706.2L1466.4,705.6L1466.7,705.0L1467.1,704.5L1467.4,704.0L1467.8,703.4L1468.1,702.9L1468.5,702.3L1468.9,701.8L1469.2,701.2L1469.6,700.7L1470.0,700.2L1470.4,699.7L1470.7,699.1L1471.1,698.6L1471.5,698.1L1471.9,697.6L1472.3,697.0L1472.7,696.5L1473.1,696.0L1473.5,695.5L1473.9,695.0L1474.3,694.5L1474.8,694.0L1475.2,693.5L1475.6,693.0L1476.0,692.5L1476.5,692.0L1476.9,691.5L1477.4,691.0L1477.8,690.6L1478.2,690.1L1478.7,689.6L1479.2,689.1L1479.6,688.7L1480.1,688.2L1480.6,687.7L1481.0,687.3L1481.5,686.8L1482.0,686.4L1482.5,685.9L1483.0,685.5L1483.5,685.0L1484.0,684.6L1484.5,684.1L1485.0,683.7L1485.5,683.3L1486.0,682.8 M1493.2,849.2L1493.2,850.5L1493.3,851.7L1493.3,852.8L1493.4,853.9L1493.4,854.8L1493.5,855.6L1493.6,856.2L1493.6,856.8L1493.7,857.1L1493.8,857.3L1493.9,857.3L1493.9,857.2L1494.0,856.9L1494.1,856.4L1494.2,855.9L1494.3,855.2L1494.4,854.4L1494.5,853.6L1494.6,852.7L1494.7,851.8L1494.8,850.9L1494.8,850.0L1494.9,849.0L1495.0,848.0L1495.0,847.0L1495.1,846.0L1495.2,844.9L1495.2,843.8L1495.3,842.8L1495.4,841.7L1495.4,840.6L1495.5,839.4L1495.5,838.3L1495.6,837.2L1495.6,836.0L1495.7,834.9L1495.7,833.7L1495.8,832.5L1495.8,831.4L1495.9,830.2L1496.0,829.0L1496.0,827.8L1496.1,826.6L1496.1,825.4L1496.2,824.2L1496.2,823.0L1496.3,821.8L1496.4,820.6L1496.4,819.4L1496.5,818.2L1496.5,817.0L1496.6,815.7L1496.6,814.5L1496.7,813.3L1496.8,812.1L1496.8,810.8L1496.9,809.6L1496.9,808.4L1497.0,807.1L1497.0,805.9L1497.1,804.7L1497.2,803.4L1497.2,802.2L1497.3,801.0L1497.3,799.7L1497.4,798.5L1497.4,797.3L1497.5,796.0L1497.6,794.8L1497.6,793.6L1497.7,792.4L1497.7,791.1L1497.8,789.9L1497.8,788.7L1497.9,787.5L1497.9,786.3L1498.0,785.1L1498.0,783.9L1498.1,782.7L1498.1,781.5L1498.2,780.3L1498.2,779.1L1498.3,777.9L1498.3,776.7L1498.4,775.6L1498.4,774.4L1498.5,773.2L1498.5,772.1L1498.6,770.9L1498.6,769.8L1498.6,768.7L1498.7,767.5L1498.7,766.4L1498.8,765.3L1498.8,764.2L1498.8,763.1L1498.9,762.0L1498.9,760.9L1499.0,759.9L1499.0,758.8L1499.0,757.7L1499.1,756.7L1499.1,755.6L1499.1,754.6L1499.2,753.6L1499.2,752.5L1499.2,751.5L1499.3,750.5L1499.3,749.4L1499.3,748.4L1499.4,747.3L1499.4,746.3L1499.4,745.2L1499.5,744.2L1499.5,743.1L1499.6,742.1L1499.6,741.0L1499.6,739.9L1499.7,738.8L1499.7,737.7L1499.8,736.7L1499.9,735.6L1499.9,734.5L1500.0,733.4L1500.0,732.3L1500.1,731.2L1500.2,730.2L1500.2,729.1L1500.3,728.0L1500.4,727.0L1500.5,725.9L1500.6,724.9L1500.7,723.9L1500.8,722.8L1500.9,721.8L1501.0,720.8L1501.1,719.8L1501.2,718.8L1501.3,717.8L1501.4,716.8L1501.6,715.8L1501.7,714.9L1501.8,713.9L1502.0,712.9L1502.1,712.0L1502.2,711.0L1502.4,710.0L1502.5,709.1L1502.7,708.1L1502.9,707.2L1503.0,706.2L1503.2,705.3L1503.3,704.4L1503.5,703.4L1503.7,702.5L1503.8,701.5L1504.0,700.6L1504.2,699.6L1504.4,698.7L1504.6,697.7L1504.7,696.8L1504.9,695.8L1505.1,694.9L1505.3,693.9L1505.5,693.0L1505.7,692.0L1505.9,691.1L1506.1,690.1L1506.3,689.1L1506.5,688.2L1506.7,687.2L1506.9,686.2L1507.1,685.3L1507.3,684.3L1507.5,683.3L1507.7,682.4L1507.9,681.4L1508.2,680.5L1508.4,679.5L1508.6,678.5L1508.9,677.6L1509.1,676.6L1509.4,675.7L1509.6,674.7L1509.9,673.8L1510.1,672.9L1510.4,671.9L1510.7,671.0L1510.9,670.1L1511.2,669.2L1511.5,668.3L1511.8,667.3L1512.1,666.5L1512.4,665.6L1512.7,664.7L1513.0,663.8L1513.4,662.9L1513.7,662.1L1514.0,661.2L1514.4,660.4L1514.7,659.5L1515.1,658.7L1515.4,657.9L1515.8,657.1L1516.2,656.3L1516.6,655.5L1517.0,654.7L1517.4,653.9L1517.8,653.2L1518.2,652.4L1518.6,651.7L1519.1,651.0L1519.5,650.3L1520.0,649.6L1520.4,648.9L1520.9,648.2L1521.4,647.6L1521.9,646.9L1522.4,646.3L1522.9,645.7L1523.4,645.1L1523.9,644.5L1524.4,644.0L1525.0,643.5L1525.5,643.0L1526.1,642.6L1526.6,642.2L1527.1,641.9L1527.7,641.6L1528.2,641.4L1528.8,641.2L1529.3,641.1L1529.8,641.1L1530.3,641.2L1530.8,641.3L1531.4,641.5L1531.8,641.8L1532.3,642.1L1532.8,642.6L1533.2,643.1L1533.6,643.6L1534.0,644.2L1534.4,644.8L1534.7,645.5L1535.0,646.2L1535.2,647.0L1535.4,647.8L1535.6,648.6L1535.8,649.4L1536.0,650.3L1536.1,651.2L1536.2,652.1L1536.3,653.0L1536.4,653.9L1536.5,654.8L1536.7,655.8L1536.8,656.7L1536.9,657.6L1537.0,658.6L1537.0,659.6L1537.1,660.5L1537.2,661.5L1537.3,662.5L1537.4,663.4L1537.5,664.4L1537.6,665.4L1537.7,666.4L1537.8,667.4L1537.9,668.4L1538.0,669.5L1538.0,670.5L1538.1,671.5L1538.2,672.5L1538.3,673.6L1538.4,674.6L1538.4,675.7L1538.5,676.8L1538.6,677.8L1538.7,678.9L1538.7,680.0L1538.8,681.1L1538.9,682.2L1538.9,683.3L1539.0,684.5L1539.1,685.6L1539.1,686.8L1539.2,687.9L1539.2,689.1L1539.3,690.2L1539.3,691.4L1539.4,692.6L1539.4,693.8L1539.5,695.0L1539.5,696.2L1539.6,697.5L1539.6,698.7L1539.7,699.9L1539.7,701.2L1539.7,702.5L1539.8,703.8L1539.8,705.0L1539.8,706.3L1539.9,707.7L1539.9,709.0L1539.9,710.3L1539.9,711.7L1539.9,713.0L1540.0,714.4L1540.0,715.8L1540.0,717.2L1540.0,718.6L1540.0,720.0"/>
<path stroke-width="4.8" d="M289.4,1007.3 L289.4,954.0 M289.6,889.3 L289.6,898.3 M371.4,1015.2 L371.4,968.0 M371.6,940.6 L371.6,949.6 M479.5,994.4 L479.5,923.5 M479.7,832.3 L479.8,841.3 M598.4,986.9 L598.4,912.6 M598.6,812.2 L598.6,821.2 M709.7,978.3 L709.7,897.0 M709.9,783.5 L710.0,792.5 M814.4,969.0 L814.4,882.5 M814.6,757.7 L814.6,766.7 M912.5,959.0 L912.5,867.5 M912.7,732.7 L912.8,741.7 M1003.8,949.6 L1003.8,852.6 M1004.0,708.5 L1004.0,717.5 M1088.4,939.6 L1088.4,837.0 M1088.6,682.3 L1088.7,691.3 M1166.6,928.3 L1166.6,820.4 M1166.8,652.7 L1166.8,661.7 M1240.4,917.7 L1240.4,803.3 M1240.6,619.4 L1240.7,628.4 M1308.4,905.7 L1308.4,783.7 M1308.6,581.9 L1308.7,590.9 M1371.8,893.3 L1371.8,759.6 M1372.0,535.6 L1372.0,544.6 M1431.6,879.0 L1431.6,727.5 M1431.8,471.9 L1431.8,480.9 M1487.5,863.3 L1487.5,683.2 M1487.7,379.6 L1487.8,388.6"/>
<path stroke-width="2.5" d="M1373.5,748.1L1373.6,750.1L1373.6,752.2L1373.7,754.2L1373.8,756.2L1373.8,758.1L1373.9,760.1L1373.9,762.0L1374.0,763.9L1374.1,765.8L1374.1,767.6L1374.2,769.5L1374.3,771.3L1374.4,773.1L1374.4,774.9L1374.5,776.7L1374.6,778.5L1374.6,780.3L1374.7,782.0L1374.8,783.8L1374.9,785.5L1374.9,787.3L1375.0,789.0L1375.1,790.7L1375.1,792.5L1375.2,794.2L1375.3,795.9L1375.3,797.6L1375.4,799.4L1375.5,801.1L1375.5,802.8L1375.6,804.6L1375.6,806.3L1375.7,808.0L1375.7,809.8L1375.8,811.6L1375.8,813.3L1375.9,815.1L1375.9,816.9L1376.0,818.7L1376.0,820.5L1376.0,822.3L1376.1,824.0L1376.1,825.8L1376.2,827.6L1376.2,829.4L1376.3,831.1L1376.3,832.9L1376.4,834.6L1376.4,836.3L1376.5,838.0L1376.6,839.7L1376.7,841.4L1376.7,843.1L1376.8,844.8L1376.9,846.5L1377.0,848.1L1377.1,849.8L1377.2,851.5L1377.2,853.2L1377.3,854.8L1377.4,856.5L1377.5,858.2L1377.6,859.9L1377.7,861.6L1377.8,863.3L1377.9,865.1L1378.0,866.8L1378.1,868.6L1378.1,870.4L1378.2,872.2L1378.3,874.0L1378.4,875.9L1378.4,877.8L1378.5,879.7L1378.6,881.6L1378.6,883.6L1378.7,885.6L1378.7,887.6L1378.8,889.7L1378.8,891.7L1378.8,893.6L1378.9,895.5 M1372.2,535.6L1372.1,537.9L1372.1,540.2L1372.1,542.4L1372.1,544.7L1372.1,546.9L1372.1,549.2L1372.1,551.4L1372.1,553.7L1372.1,555.9L1372.1,558.1L1372.1,560.4L1372.1,562.6L1372.1,564.8L1372.1,567.0L1372.1,569.2L1372.1,571.4L1372.1,573.6L1372.2,575.8L1372.2,578.0L1372.2,580.2L1372.2,582.4L1372.2,584.5L1372.2,586.7L1372.2,588.9L1372.2,591.1L1372.2,593.3L1372.2,595.4L1372.2,597.6L1372.2,599.8L1372.2,602.0L1372.2,604.1L1372.2,606.3L1372.2,608.5L1372.2,610.6L1372.2,612.8L1372.2,615.0L1372.2,617.2L1372.2,619.3L1372.2,621.5L1372.3,623.7L1372.3,625.9L1372.3,628.0L1372.3,630.2L1372.3,632.4L1372.3,634.6L1372.3,636.8L1372.3,639.0L1372.3,641.2L1372.3,643.4L1372.4,645.6L1372.4,647.8L1372.4,650.0L1372.4,652.2L1372.4,654.4L1372.4,656.6L1372.4,658.9L1372.4,661.1L1372.5,663.4L1372.5,665.6L1372.5,667.9L1372.5,670.1L1372.5,672.4L1372.5,674.6L1372.5,676.9L1372.6,679.2L1372.6,681.5L1372.6,683.8L1372.6,686.0L1372.6,688.3L1372.7,690.6L1372.7,692.9L1372.7,695.2L1372.7,697.5L1372.7,699.8L1372.8,702.0L1372.8,704.3L1372.8,706.6L1372.8,708.9L1372.9,711.1L1372.9,713.4L1372.9,715.6L1373.0,717.9L1373.0,720.1L1373.0,722.3L1373.1,724.6L1373.1,726.8L1373.1,729.0L1373.2,731.1L1373.2,733.3L1373.3,735.5L1373.3,737.6L1373.3,739.7L1373.4,741.8L1373.4,743.9L1373.5,746.0L1373.5,748.1 M1371.8,759.6 L1372.1,535.6 M1433.3,738.6L1433.4,740.9L1433.4,743.2L1433.4,745.4L1433.5,747.6L1433.5,749.8L1433.6,752.0L1433.6,754.1L1433.7,756.1L1433.8,758.2L1433.8,760.2L1433.9,762.1L1433.9,764.0L1434.0,765.9L1434.1,767.8L1434.2,769.6L1434.2,771.3L1434.3,773.1L1434.4,774.8L1434.5,776.5L1434.5,778.2L1434.6,779.8L1434.7,781.4L1434.8,783.0L1434.9,784.6L1434.9,786.2L1435.0,787.8L1435.1,789.4L1435.2,790.9L1435.3,792.5L1435.4,794.1L1435.4,795.6L1435.5,797.2L1435.6,798.7L1435.7,800.3L1435.7,801.9L1435.8,803.5L1435.9,805.1L1435.9,806.7L1436.0,808.4L1436.1,810.0L1436.1,811.7L1436.2,813.4L1436.3,815.1L1436.3,816.9L1436.4,818.6L1436.4,820.3L1436.5,822.1L1436.5,823.8L1436.6,825.5L1436.6,827.2L1436.7,829.0L1436.7,830.7L1436.8,832.3L1436.8,834.0L1436.9,835.6L1437.0,837.2L1437.0,838.8L1437.1,840.4L1437.1,842.0L1437.2,843.5L1437.3,845.1L1437.3,846.7L1437.4,848.3L1437.4,850.0L1437.5,851.7L1437.6,853.4L1437.6,855.2L1437.7,857.1L1437.7,859.0L1437.7,861.0L1437.8,863.0L1437.8,865.1L1437.8,867.2L1437.9,869.3L1437.9,871.3L1437.9,873.3L1438.0,875.2L1438.0,877.0 M1431.9,471.9L1432.0,474.2L1432.0,476.5L1432.0,478.9L1432.0,481.2L1432.0,483.5L1432.0,485.8L1432.0,488.2L1432.0,490.5L1432.0,492.8L1432.0,495.1L1432.0,497.5L1432.0,499.8L1432.0,502.1L1432.0,504.4L1432.0,506.8L1432.0,509.1L1432.0,511.4L1432.0,513.8L1432.0,516.1L1432.0,518.4L1432.0,520.8L1432.0,523.1L1432.0,525.4L1432.0,527.8L1432.0,530.1L1432.0,532.4L1432.0,534.8L1432.0,537.1L1432.0,539.4L1432.0,541.8L1432.0,544.1L1432.0,546.4L1432.0,548.8L1432.0,551.1L1432.0,553.4L1432.0,555.8L1432.0,558.1L1432.0,560.4L1432.0,562.8L1432.0,565.1L1432.0,567.5L1432.0,569.8L1432.0,572.1L1432.0,574.5L1432.0,576.8L1432.0,579.1L1432.0,581.5L1432.1,583.8L1432.1,586.1L1432.1,588.4L1432.1,590.8L1432.1,593.1L1432.1,595.4L1432.1,597.8L1432.1,600.1L1432.1,602.4L1432.1,604.8L1432.1,607.1L1432.1,609.4L1432.2,611.7L1432.2,614.1L1432.2,616.4L1432.2,618.7L1432.2,621.0L1432.2,623.3L1432.2,625.7L1432.2,628.0L1432.3,630.3L1432.3,632.6L1432.3,634.9L1432.3,637.3L1432.3,639.6L1432.3,641.9L1432.3,644.2L1432.4,646.5L1432.4,648.8L1432.4,651.1L1432.4,653.4L1432.4,655.7L1432.4,658.1L1432.5,660.4L1432.5,662.7L1432.5,665.0L1432.5,667.3L1432.5,669.6L1432.6,672.0L1432.6,674.3L1432.6,676.6L1432.6,679.0L1432.6,681.3L1432.7,683.6L1432.7,686.0L1432.7,688.4L1432.7,690.7L1432.8,693.1L1432.8,695.5L1432.8,697.9L1432.8,700.3L1432.9,702.7L1432.9,705.1L1432.9,707.5L1432.9,709.9L1433.0,712.3L1433.0,714.8L1433.0,717.2L1433.0,719.6L1433.1,722.0L1433.1,724.4L1433.1,726.8L1433.2,729.2L1433.2,731.6L1433.2,734.0L1433.3,736.3L1433.3,738.6 M1431.6,727.5 L1431.9,471.9 M1489.2,648.9L1489.2,650.7L1489.3,652.4L1489.3,654.1L1489.3,655.9L1489.4,657.6L1489.4,659.4L1489.4,661.1L1489.4,662.8L1489.5,664.6L1489.5,666.3L1489.5,668.1L1489.6,669.8L1489.6,671.6L1489.6,673.3L1489.6,675.1L1489.7,676.9L1489.7,678.6L1489.7,680.4L1489.8,682.2L1489.8,684.0L1489.8,685.7L1489.8,687.5L1489.8,689.3L1489.9,691.1L1489.9,692.9L1489.9,694.7L1489.9,696.5L1490.0,698.3L1490.0,700.1L1490.0,701.9L1490.0,703.8L1490.0,705.6L1490.0,707.4L1490.1,709.2L1490.1,711.1L1490.1,712.9L1490.1,714.7L1490.1,716.5L1490.1,718.4L1490.1,720.2L1490.2,722.0L1490.2,723.8L1490.2,725.6L1490.2,727.4L1490.2,729.1L1490.2,730.9L1490.2,732.7L1490.2,734.4L1490.3,736.1L1490.3,737.8L1490.3,739.5L1490.3,741.2L1490.3,742.9L1490.3,744.5L1490.4,746.1L1490.4,747.7L1490.4,749.3L1490.4,750.9L1490.5,752.4L1490.5,753.9L1490.5,755.4L1490.5,756.9L1490.6,758.3L1490.6,759.7L1490.6,761.1L1490.7,762.4L1490.7,763.7L1490.7,765.0L1490.8,766.3L1490.8,767.6L1490.9,768.8L1490.9,770.0L1491.0,771.2L1491.0,772.4L1491.0,773.6L1491.1,774.7L1491.1,775.9L1491.2,777.0L1491.2,778.2L1491.3,779.3L1491.3,780.5L1491.4,781.6L1491.4,782.8L1491.5,783.9L1491.5,785.1L1491.5,786.3L1491.6,787.4L1491.6,788.6L1491.7,789.8L1491.7,791.0L1491.7,792.2L1491.8,793.4L1491.8,794.6L1491.9,795.8L1491.9,797.0L1491.9,798.2L1492.0,799.4L1492.0,800.7L1492.0,801.9L1492.1,803.1L1492.1,804.2L1492.1,805.4L1492.2,806.6L1492.2,807.8L1492.2,809.0L1492.3,810.1L1492.3,811.3L1492.3,812.4L1492.4,813.5L1492.4,814.7L1492.4,815.8L1492.5,816.9L1492.5,818.1L1492.5,819.2L1492.5,820.4L1492.6,821.5L1492.6,822.7L1492.6,823.9L1492.7,825.1L1492.7,826.4L1492.7,827.7L1492.8,828.9L1492.8,830.3L1492.8,831.6L1492.8,833.0L1492.9,834.4L1492.9,835.9L1492.9,837.4L1493.0,838.9L1493.0,840.4L1493.0,841.9L1493.1,843.4L1493.1,844.9L1493.1,846.4L1493.2,847.8L1493.2,849.2 M1487.8,379.6L1487.9,381.3L1487.9,383.0L1487.9,384.8L1487.9,386.5L1487.9,388.3L1487.9,390.0L1487.9,391.8L1487.9,393.5L1487.9,395.2L1487.9,397.0L1487.9,398.7L1487.9,400.5L1487.9,402.2L1487.9,404.0L1487.9,405.7L1487.9,407.5L1487.9,409.2L1487.9,411.0L1487.9,412.7L1487.9,414.5L1487.9,416.2L1487.9,418.0L1487.9,419.7L1487.9,421.5L1487.9,423.2L1487.9,425.0L1487.9,426.7L1487.9,428.5L1487.9,430.2L1487.9,432.0L1487.9,433.7L1487.9,435.5L1487.9,437.2L1487.9,439.0L1487.9,440.7L1487.9,442.5L1487.9,444.2L1487.9,446.0L1487.9,447.8L1487.9,449.5L1487.9,451.3L1487.9,453.0L1487.9,454.8L1487.9,456.5L1487.9,458.3L1487.9,460.0L1487.9,461.8L1487.9,463.5L1487.9,465.3L1487.9,467.1L1487.9,468.8L1487.9,470.6L1487.9,472.3L1487.9,474.1L1487.9,475.8L1487.9,477.6L1487.9,479.3L1487.9,481.1L1487.9,482.9L1487.9,484.6L1487.9,486.4L1487.9,488.1L1487.9,489.9L1487.9,491.6L1487.9,493.4L1487.9,495.1L1488.0,496.9L1488.0,498.7L1488.0,500.4L1488.0,502.2L1488.0,503.9L1488.0,505.7L1488.0,507.4L1488.0,509.2L1488.0,510.9L1488.0,512.7L1488.0,514.5L1488.0,516.2L1488.0,518.0L1488.0,519.7L1488.0,521.5L1488.0,523.2L1488.0,525.0L1488.0,526.7L1488.0,528.5L1488.0,530.3L1488.1,532.0L1488.1,533.8L1488.1,535.5L1488.1,537.3L1488.1,539.0L1488.1,540.8L1488.1,542.5L1488.1,544.3L1488.1,546.0L1488.1,547.8L1488.1,549.5L1488.1,551.3L1488.2,553.0L1488.2,554.8L1488.2,556.6L1488.2,558.3L1488.2,560.1L1488.2,561.8L1488.2,563.6L1488.2,565.3L1488.2,567.1L1488.3,568.8L1488.3,570.6L1488.3,572.3L1488.3,574.1L1488.3,575.8L1488.3,577.6L1488.3,579.3L1488.4,581.0L1488.4,582.8L1488.4,584.5L1488.4,586.3L1488.4,588.0L1488.4,589.8L1488.4,591.5L1488.5,593.3L1488.5,595.0L1488.5,596.8L1488.5,598.5L1488.5,600.3L1488.6,602.0L1488.6,603.7L1488.6,605.5L1488.6,607.2L1488.6,609.0L1488.7,610.7L1488.7,612.5L1488.7,614.2L1488.7,615.9L1488.7,617.7L1488.8,619.4L1488.8,621.2L1488.8,622.9L1488.8,624.6L1488.9,626.4L1488.9,628.1L1488.9,629.8L1488.9,631.6L1489.0,633.3L1489.0,635.0L1489.0,636.8L1489.0,638.5L1489.1,640.3L1489.1,642.0L1489.1,643.7L1489.2,645.5L1489.2,647.2L1489.2,648.9 M1487.5,683.2 L1487.8,379.6"/>
<path stroke-width="3.2" d="M1090.1,812.4L1090.2,814.6L1090.3,816.8L1090.3,818.9L1090.4,821.1L1090.5,823.2L1090.5,825.4L1090.6,827.5L1090.7,829.7L1090.8,831.8L1090.9,833.9L1090.9,836.0L1091.0,838.1L1091.1,840.2L1091.2,842.3L1091.3,844.4L1091.4,846.5L1091.5,848.6L1091.6,850.6L1091.7,852.7L1091.8,854.7L1091.9,856.8L1092.0,858.8L1092.1,860.8L1092.2,862.8L1092.3,864.8L1092.4,866.8L1092.6,868.8L1092.7,870.8L1092.8,872.8L1092.9,874.8L1093.0,876.7L1093.2,878.7L1093.3,880.7L1093.4,882.6L1093.5,884.6L1093.7,886.6L1093.8,888.5L1093.9,890.5L1094.1,892.4L1094.2,894.4L1094.3,896.3L1094.5,898.2L1094.6,900.2L1094.8,902.1L1094.9,904.1L1095.0,906.0L1095.2,908.0L1095.3,909.9L1095.5,911.9L1095.6,913.8L1095.8,915.8L1095.9,917.7L1096.0,919.6L1096.2,921.5L1096.3,923.4L1096.5,925.3L1096.6,927.2L1096.7,929.0L1096.9,930.9L1097.0,932.7L1097.1,934.4L1097.2,936.2L1097.4,937.9L1097.5,939.6L1097.6,941.3L1097.7,942.9L1097.8,944.5L1097.9,946.1 M1088.8,682.3L1088.7,684.4L1088.7,686.5L1088.7,688.7L1088.7,690.8L1088.7,693.0L1088.7,695.1L1088.7,697.3L1088.7,699.4L1088.7,701.6L1088.7,703.8L1088.7,706.0L1088.7,708.1L1088.7,710.3L1088.7,712.5L1088.7,714.7L1088.7,716.9L1088.7,719.1L1088.7,721.3L1088.8,723.5L1088.8,725.7L1088.8,728.0L1088.8,730.2L1088.8,732.4L1088.8,734.6L1088.8,736.9L1088.8,739.1L1088.9,741.3L1088.9,743.5L1088.9,745.8L1088.9,748.0L1088.9,750.2L1089.0,752.5L1089.0,754.7L1089.0,757.0L1089.0,759.2L1089.1,761.4L1089.1,763.7L1089.1,765.9L1089.2,768.1L1089.2,770.4L1089.2,772.6L1089.3,774.8L1089.3,777.1L1089.3,779.3L1089.4,781.5L1089.4,783.8L1089.5,786.0L1089.5,788.2L1089.6,790.4L1089.6,792.6L1089.7,794.8L1089.7,797.1L1089.8,799.3L1089.8,801.5L1089.9,803.7L1089.9,805.9L1090.0,808.0L1090.1,810.2L1090.1,812.4 M1088.4,837.0 L1088.7,682.3 M1168.3,800.5L1168.4,802.5L1168.5,804.4L1168.5,806.3L1168.6,808.2L1168.7,810.1L1168.8,812.0L1168.8,813.9L1168.9,815.8L1169.0,817.7L1169.1,819.6L1169.2,821.5L1169.2,823.4L1169.3,825.3L1169.4,827.2L1169.5,829.0L1169.6,830.9L1169.7,832.8L1169.8,834.7L1169.9,836.5L1170.0,838.4L1170.1,840.3L1170.2,842.1L1170.3,844.0L1170.4,845.9L1170.5,847.7L1170.6,849.6L1170.7,851.5L1170.8,853.3L1170.9,855.2L1171.0,857.1L1171.1,858.9L1171.2,860.8L1171.3,862.6L1171.4,864.5L1171.6,866.4L1171.7,868.3L1171.8,870.1L1171.9,872.0L1172.0,873.9L1172.1,875.8L1172.2,877.6L1172.3,879.5L1172.4,881.4L1172.5,883.3L1172.7,885.2L1172.8,887.1L1172.9,889.0L1173.0,890.9L1173.1,892.8L1173.2,894.7L1173.3,896.6L1173.4,898.5L1173.5,900.4L1173.6,902.3L1173.7,904.3L1173.9,906.2L1174.0,908.1L1174.1,910.0L1174.2,911.9L1174.3,913.8L1174.4,915.7L1174.5,917.5L1174.6,919.3L1174.7,921.1L1174.8,922.9L1174.9,924.6L1175.0,926.3L1175.1,927.9L1175.2,929.5L1175.3,931.1L1175.4,932.6L1175.5,934.1L1175.6,935.5 M1167.0,652.7L1167.0,654.7L1167.0,656.6L1167.0,658.6L1167.0,660.6L1167.0,662.5L1167.0,664.5L1167.0,666.5L1167.0,668.5L1167.0,670.5L1167.0,672.5L1167.0,674.5L1167.0,676.5L1167.0,678.5L1167.0,680.5L1167.0,682.5L1167.0,684.5L1167.0,686.5L1167.0,688.5L1167.0,690.5L1167.0,692.5L1167.0,694.6L1167.0,696.6L1167.0,698.6L1167.0,700.6L1167.0,702.6L1167.0,704.7L1167.0,706.7L1167.0,708.7L1167.0,710.7L1167.0,712.7L1167.0,714.8L1167.0,716.8L1167.0,718.8L1167.0,720.8L1167.0,722.9L1167.0,724.9L1167.0,726.9L1167.1,728.9L1167.1,731.0L1167.1,733.0L1167.1,735.0L1167.1,737.0L1167.1,739.1L1167.1,741.1L1167.2,743.1L1167.2,745.1L1167.2,747.1L1167.2,749.1L1167.2,751.2L1167.3,753.2L1167.3,755.2L1167.3,757.2L1167.3,759.2L1167.4,761.2L1167.4,763.2L1167.4,765.2L1167.5,767.2L1167.5,769.2L1167.6,771.2L1167.6,773.1L1167.6,775.1L1167.7,777.1L1167.7,779.1L1167.8,781.0L1167.8,783.0L1167.9,785.0L1167.9,786.9L1168.0,788.9L1168.0,790.8L1168.1,792.8L1168.1,794.7L1168.2,796.7L1168.3,798.6L1168.3,800.5 M1166.6,820.4 L1166.9,652.7 M1242.1,776.7L1242.2,779.0L1242.2,781.3L1242.3,783.6L1242.4,785.9L1242.4,788.1L1242.5,790.4L1242.6,792.6L1242.6,794.9L1242.7,797.1L1242.8,799.3L1242.8,801.5L1242.9,803.7L1243.0,805.9L1243.1,808.0L1243.1,810.2L1243.2,812.3L1243.3,814.4L1243.4,816.5L1243.4,818.5L1243.5,820.6L1243.6,822.6L1243.7,824.6L1243.8,826.6L1243.8,828.6L1243.9,830.5L1244.0,832.5L1244.1,834.4L1244.2,836.3L1244.3,838.1L1244.4,840.0L1244.4,841.9L1244.5,843.7L1244.6,845.6L1244.7,847.4L1244.8,849.2L1244.9,851.0L1244.9,852.8L1245.0,854.6L1245.1,856.4L1245.2,858.2L1245.3,860.0L1245.4,861.8L1245.4,863.6L1245.5,865.4L1245.6,867.3L1245.7,869.1L1245.7,870.9L1245.8,872.7L1245.9,874.6L1246.0,876.4L1246.0,878.3L1246.1,880.2L1246.2,882.0L1246.2,883.9L1246.3,885.8L1246.4,887.7L1246.4,889.6L1246.5,891.5L1246.6,893.4L1246.6,895.3L1246.7,897.1L1246.8,899.0L1246.8,900.9L1246.9,902.7L1247.0,904.6L1247.0,906.4L1247.1,908.3L1247.2,910.1L1247.2,911.9L1247.3,913.7L1247.4,915.4L1247.5,917.2L1247.5,918.9L1247.6,920.6L1247.7,922.3L1247.8,923.9L1247.9,925.6 M1240.7,619.4L1240.8,621.7L1240.8,624.0L1240.8,626.3L1240.8,628.6L1240.8,630.9L1240.8,633.1L1240.8,635.4L1240.8,637.7L1240.8,639.9L1240.8,642.2L1240.8,644.4L1240.8,646.6L1240.8,648.9L1240.8,651.1L1240.8,653.3L1240.8,655.6L1240.8,657.8L1240.8,660.0L1240.8,662.2L1240.8,664.4L1240.8,666.6L1240.8,668.9L1240.8,671.1L1240.8,673.3L1240.8,675.5L1240.8,677.7L1240.8,679.9L1240.8,682.1L1240.8,684.3L1240.9,686.5L1240.9,688.7L1240.9,690.9L1240.9,693.1L1240.9,695.3L1240.9,697.5L1240.9,699.7L1240.9,701.9L1240.9,704.1L1241.0,706.3L1241.0,708.5L1241.0,710.7L1241.0,713.0L1241.0,715.2L1241.1,717.4L1241.1,719.6L1241.1,721.9L1241.1,724.1L1241.2,726.4L1241.2,728.6L1241.2,730.9L1241.2,733.1L1241.3,735.4L1241.3,737.6L1241.3,739.9L1241.4,742.2L1241.4,744.5L1241.5,746.8L1241.5,749.1L1241.5,751.4L1241.6,753.7L1241.6,756.0L1241.7,758.3L1241.7,760.6L1241.8,762.9L1241.8,765.2L1241.9,767.5L1241.9,769.8L1242.0,772.1L1242.1,774.4L1242.1,776.7 M1240.4,803.3 L1240.7,619.4 M1310.1,767.2L1310.2,769.5L1310.3,771.8L1310.3,774.0L1310.4,776.3L1310.4,778.6L1310.5,780.9L1310.5,783.2L1310.6,785.5L1310.7,787.8L1310.7,790.1L1310.8,792.3L1310.9,794.6L1310.9,796.9L1311.0,799.2L1311.1,801.4L1311.1,803.6L1311.2,805.9L1311.3,808.1L1311.3,810.2L1311.4,812.4L1311.5,814.5L1311.6,816.7L1311.7,818.7L1311.7,820.8L1311.8,822.8L1311.9,824.8L1312.0,826.8L1312.1,828.7L1312.1,830.6L1312.2,832.5L1312.3,834.3L1312.4,836.1L1312.5,837.9L1312.6,839.7L1312.7,841.4L1312.7,843.2L1312.8,844.9L1312.9,846.6L1313.0,848.3L1313.1,849.9L1313.2,851.6L1313.3,853.2L1313.4,854.8L1313.4,856.5L1313.5,858.1L1313.6,859.7L1313.7,861.3L1313.8,862.9L1313.9,864.5L1314.0,866.1L1314.0,867.7L1314.1,869.3L1314.2,871.0L1314.3,872.6L1314.4,874.2L1314.5,875.9L1314.5,877.5L1314.6,879.2L1314.7,880.9L1314.8,882.6L1314.8,884.3L1314.9,886.1L1315.0,887.8L1315.1,889.6L1315.1,891.4L1315.2,893.3L1315.2,895.2L1315.3,897.1L1315.4,899.0L1315.4,901.0L1315.5,903.0L1315.5,905.0L1315.6,907.0L1315.6,908.9L1315.7,910.7 M1308.7,581.9L1308.8,584.1L1308.8,586.4L1308.8,588.6L1308.8,590.8L1308.8,593.0L1308.8,595.3L1308.8,597.5L1308.8,599.7L1308.8,602.0L1308.8,604.2L1308.8,606.4L1308.8,608.7L1308.8,610.9L1308.8,613.1L1308.8,615.4L1308.8,617.6L1308.8,619.8L1308.8,622.1L1308.8,624.3L1308.8,626.5L1308.8,628.8L1308.8,631.0L1308.8,633.3L1308.8,635.5L1308.8,637.7L1308.8,640.0L1308.8,642.2L1308.8,644.4L1308.8,646.7L1308.8,648.9L1308.8,651.1L1308.8,653.4L1308.8,655.6L1308.8,657.8L1308.9,660.1L1308.9,662.3L1308.9,664.5L1308.9,666.8L1308.9,669.0L1308.9,671.3L1308.9,673.5L1308.9,675.7L1308.9,678.0L1309.0,680.2L1309.0,682.4L1309.0,684.7L1309.0,686.9L1309.0,689.1L1309.0,691.4L1309.1,693.6L1309.1,695.8L1309.1,698.0L1309.1,700.3L1309.1,702.5L1309.2,704.7L1309.2,707.0L1309.2,709.2L1309.2,711.4L1309.3,713.7L1309.3,715.9L1309.3,718.1L1309.3,720.3L1309.4,722.6L1309.4,724.8L1309.4,727.0L1309.5,729.2L1309.5,731.5L1309.5,733.7L1309.6,735.9L1309.6,738.1L1309.6,740.3L1309.7,742.6L1309.7,744.8L1309.7,747.0L1309.8,749.3L1309.8,751.5L1309.9,753.7L1309.9,756.0L1310.0,758.2L1310.0,760.5L1310.0,762.7L1310.1,765.0L1310.1,767.2 M1308.4,783.7 L1308.7,581.9"/>
<path stroke-width="3.6" d="M912.8,732.7L912.9,734.8L912.9,736.8L913.0,738.9L913.0,741.0L913.0,743.0L913.1,745.1L913.1,747.1L913.1,749.2L913.2,751.3L913.2,753.3L913.2,755.4L913.2,757.4L913.2,759.5L913.3,761.5L913.3,763.6L913.3,765.7L913.3,767.7L913.3,769.8L913.3,771.8L913.3,773.9L913.4,775.9L913.4,778.0L913.4,780.0L913.4,782.1L913.4,784.1L913.4,786.2L913.4,788.2L913.4,790.3L913.5,792.3L913.5,794.4L913.5,796.4L913.5,798.5L913.5,800.5L913.5,802.6L913.5,804.6L913.6,806.6L913.6,808.7L913.6,810.8L913.6,812.8L913.6,814.9L913.7,816.9L913.7,819.0L913.7,821.0L913.7,823.1L913.8,825.1L913.8,827.2L913.8,829.2L913.9,831.3L913.9,833.3L913.9,835.4L914.0,837.5L914.0,839.5L914.1,841.6L914.1,843.6L914.2,845.7L914.2,847.8 M912.5,867.5 L912.8,732.7 M1004.1,708.6L1004.1,710.7L1004.2,712.8L1004.2,715.0L1004.2,717.1L1004.3,719.3L1004.3,721.4L1004.3,723.6L1004.3,725.8L1004.4,727.9L1004.4,730.1L1004.4,732.3L1004.4,734.5L1004.5,736.7L1004.5,738.9L1004.5,741.1L1004.5,743.3L1004.5,745.5L1004.6,747.7L1004.6,749.9L1004.6,752.1L1004.6,754.3L1004.6,756.5L1004.6,758.7L1004.7,760.9L1004.7,763.2L1004.7,765.4L1004.7,767.6L1004.7,769.8L1004.7,772.1L1004.8,774.3L1004.8,776.5L1004.8,778.7L1004.8,781.0L1004.8,783.2L1004.8,785.4L1004.9,787.6L1004.9,789.8L1004.9,792.1L1004.9,794.3L1005.0,796.5L1005.0,798.7L1005.0,800.9L1005.0,803.1L1005.1,805.3L1005.1,807.5L1005.1,809.8L1005.1,811.9L1005.2,814.1L1005.2,816.3L1005.2,818.5L1005.3,820.7L1005.3,822.9L1005.4,825.1L1005.4,827.2L1005.5,829.4 M1003.8,852.6 L1004.0,708.5"/>
<path stroke-width="4.3" d="M289.7,889.3L289.8,890.7L289.8,892.1L289.9,893.5L289.9,894.9L289.9,896.3L289.9,897.7L290.0,899.1L290.0,900.5L290.0,901.8L290.0,903.2L290.1,904.5L290.1,905.9L290.1,907.2L290.1,908.6L290.1,909.9L290.2,911.3L290.2,912.6L290.2,914.0L290.2,915.3L290.2,916.6L290.3,918.0L290.3,919.3L290.3,920.7L290.3,922.0L290.4,923.4L290.4,924.7L290.4,926.1L290.4,927.4L290.5,928.8L290.5,930.1L290.5,931.5L290.6,932.9L290.6,934.3L290.6,935.7L290.7,937.1L290.7,938.5L290.8,939.9L290.8,941.3L290.9,942.7L290.9,944.2L291.0,945.6L291.0,947.1L291.1,948.5L291.1,950.0 M289.4,954.0 L289.7,889.3 M371.8,940.6L371.8,942.2L371.8,943.8L371.9,945.3L371.9,946.7L372.0,948.1L372.0,949.5L372.0,950.9L372.1,952.3L372.1,953.6L372.2,955.0L372.2,956.3L372.3,957.7L372.4,959.3L372.5,960.9L372.6,962.7L372.7,964.7L372.8,966.9L372.9,969.2L373.0,971.7L373.1,974.2 M371.4,968.0 L371.7,940.6 M479.9,832.3L479.9,833.8L479.9,835.3L479.9,836.9L479.9,838.4L480.0,839.9L480.0,841.5L480.0,843.0L480.1,844.5L480.1,846.1L480.1,847.6L480.1,849.2L480.2,850.7L480.2,852.3L480.2,853.9L480.2,855.4L480.3,857.0L480.3,858.5L480.3,860.1L480.4,861.7L480.4,863.2L480.4,864.8L480.5,866.4L480.5,868.0L480.5,869.5L480.6,871.1L480.6,872.7L480.6,874.3L480.7,875.8L480.7,877.4L480.7,879.0L480.8,880.6L480.8,882.1L480.9,883.7L480.9,885.3L480.9,886.9L481.0,888.4L481.0,890.0L481.0,891.6L481.1,893.2L481.1,894.7L481.2,896.3L481.2,897.8 M479.5,923.5 L479.8,832.3 M598.8,812.2L598.8,813.8L598.8,815.4L598.8,816.9L598.8,818.5L598.8,820.1L598.9,821.7L598.9,823.2L598.9,824.8L598.9,826.4L599.0,828.0L599.0,829.6L599.0,831.1L599.0,832.7L599.0,834.3L599.1,835.9L599.1,837.5L599.1,839.0L599.1,840.6L599.1,842.2L599.2,843.8L599.2,845.4L599.2,847.0L599.2,848.5L599.3,850.1L599.3,851.7L599.3,853.3L599.3,854.9L599.4,856.5L599.4,858.0L599.4,859.6L599.4,861.2L599.5,862.8L599.5,864.4L599.5,866.0L599.5,867.5L599.6,869.1L599.6,870.7L599.6,872.3L599.7,873.9L599.7,875.4L599.7,877.0L599.7,878.6L599.8,880.2L599.8,881.8L599.8,883.3L599.9,884.9L599.9,886.5L599.9,888.1L600.0,889.6L600.0,891.2L600.0,892.8L600.1,894.3L600.1,895.9 M598.4,912.6 L598.7,812.2 M710.0,783.5L710.1,785.7L710.1,787.8L710.1,789.9L710.2,792.0L710.2,794.1L710.2,796.3L710.3,798.4L710.3,800.5L710.3,802.6L710.3,804.7L710.4,806.8L710.4,808.9L710.4,811.1L710.4,813.2L710.5,815.3L710.5,817.4L710.5,819.5L710.5,821.6L710.5,823.7L710.6,825.8L710.6,827.9L710.6,830.0L710.6,832.1L710.7,834.2L710.7,836.3L710.7,838.5L710.7,840.6L710.8,842.7L710.8,844.8L710.8,846.9L710.9,849.0L710.9,851.1L710.9,853.2L711.0,855.3L711.0,857.4L711.0,859.5L711.1,861.6L711.1,863.8L711.1,865.9L711.2,868.0L711.2,870.1L711.3,872.2L711.3,874.3L711.3,876.4L711.4,878.6L711.4,880.7 M709.7,897.0 L710.0,783.5 M814.7,757.7L814.8,760.0L814.9,762.2L814.9,764.5L814.9,766.7L815.0,769.0L815.0,771.2L815.1,773.5L815.1,775.8L815.1,778.0L815.1,780.3L815.2,782.5L815.2,784.8L815.2,787.0L815.2,789.3L815.3,791.6L815.3,793.8L815.3,796.1L815.3,798.3L815.3,800.6L815.3,802.8L815.3,805.1L815.4,807.3L815.4,809.6L815.4,811.9L815.4,814.1L815.4,816.4L815.4,818.6L815.4,820.9L815.5,823.1L815.5,825.4L815.5,827.6L815.5,829.9L815.5,832.1L815.5,834.4L815.5,836.6L815.6,838.9L815.6,841.1L815.6,843.4L815.6,845.6L815.7,847.9L815.7,850.1L815.7,852.4L815.8,854.6L815.8,856.9L815.8,859.1L815.9,861.4L815.9,863.6L816.0,865.9L816.0,868.1L816.1,870.4L816.1,872.6 M814.4,882.5 L814.7,757.7"/>
<path stroke-width="4.7" stroke-dasharray="0.01 3.0" d="M289.7,889.3L289.8,890.7L289.8,892.1L289.9,893.5L289.9,894.9L289.9,896.3L289.9,897.7L290.0,899.1L290.0,900.5L290.0,901.8L290.0,903.2L290.1,904.5L290.1,905.9L290.1,907.2L290.1,908.6L290.1,909.9L290.2,911.3L290.2,912.6L290.2,914.0L290.2,915.3L290.2,916.6L290.3,918.0L290.3,919.3L290.3,920.7L290.3,922.0L290.4,923.4L290.4,924.7L290.4,926.1L290.4,927.4L290.5,928.8L290.5,930.1L290.5,931.5L290.6,932.9L290.6,934.3L290.6,935.7L290.7,937.1L290.7,938.5L290.8,939.9L290.8,941.3L290.9,942.7L290.9,944.2L291.0,945.6L291.0,947.1L291.1,948.5L291.1,950.0 M371.8,940.6L371.8,942.2L371.8,943.8L371.9,945.3L371.9,946.7L372.0,948.1L372.0,949.5L372.0,950.9L372.1,952.3L372.1,953.6L372.2,955.0L372.2,956.3L372.3,957.7L372.4,959.3L372.5,960.9L372.6,962.7L372.7,964.7L372.8,966.9L372.9,969.2L373.0,971.7L373.1,974.2 M479.9,832.3L479.9,833.8L479.9,835.3L479.9,836.9L479.9,838.4L480.0,839.9L480.0,841.5L480.0,843.0L480.1,844.5L480.1,846.1L480.1,847.6L480.1,849.2L480.2,850.7L480.2,852.3L480.2,853.9L480.2,855.4L480.3,857.0L480.3,858.5L480.3,860.1L480.4,861.7L480.4,863.2L480.4,864.8L480.5,866.4L480.5,868.0L480.5,869.5L480.6,871.1L480.6,872.7L480.6,874.3L480.7,875.8L480.7,877.4L480.7,879.0L480.8,880.6L480.8,882.1L480.9,883.7L480.9,885.3L480.9,886.9L481.0,888.4L481.0,890.0L481.0,891.6L481.1,893.2L481.1,894.7L481.2,896.3L481.2,897.8 M598.8,812.2L598.8,813.8L598.8,815.4L598.8,816.9L598.8,818.5L598.8,820.1L598.9,821.7L598.9,823.2L598.9,824.8L598.9,826.4L599.0,828.0L599.0,829.6L599.0,831.1L599.0,832.7L599.0,834.3L599.1,835.9L599.1,837.5L599.1,839.0L599.1,840.6L599.1,842.2L599.2,843.8L599.2,845.4L599.2,847.0L599.2,848.5L599.3,850.1L599.3,851.7L599.3,853.3L599.3,854.9L599.4,856.5L599.4,858.0L599.4,859.6L599.4,861.2L599.5,862.8L599.5,864.4L599.5,866.0L599.5,867.5L599.6,869.1L599.6,870.7L599.6,872.3L599.7,873.9L599.7,875.4L599.7,877.0L599.7,878.6L599.8,880.2L599.8,881.8L599.8,883.3L599.9,884.9L599.9,886.5L599.9,888.1L600.0,889.6L600.0,891.2L600.0,892.8L600.1,894.3L600.1,895.9 M710.0,783.5L710.1,785.7L710.1,787.8L710.1,789.9L710.2,792.0L710.2,794.1L710.2,796.3L710.3,798.4L710.3,800.5L710.3,802.6L710.3,804.7L710.4,806.8L710.4,808.9L710.4,811.1L710.4,813.2L710.5,815.3L710.5,817.4L710.5,819.5L710.5,821.6L710.5,823.7L710.6,825.8L710.6,827.9L710.6,830.0L710.6,832.1L710.7,834.2L710.7,836.3L710.7,838.5L710.7,840.6L710.8,842.7L710.8,844.8L710.8,846.9L710.9,849.0L710.9,851.1L710.9,853.2L711.0,855.3L711.0,857.4L711.0,859.5L711.1,861.6L711.1,863.8L711.1,865.9L711.2,868.0L711.2,870.1L711.3,872.2L711.3,874.3L711.3,876.4L711.4,878.6L711.4,880.7 M814.7,757.7L814.8,760.0L814.9,762.2L814.9,764.5L814.9,766.7L815.0,769.0L815.0,771.2L815.1,773.5L815.1,775.8L815.1,778.0L815.1,780.3L815.2,782.5L815.2,784.8L815.2,787.0L815.2,789.3L815.3,791.6L815.3,793.8L815.3,796.1L815.3,798.3L815.3,800.6L815.3,802.8L815.3,805.1L815.4,807.3L815.4,809.6L815.4,811.9L815.4,814.1L815.4,816.4L815.4,818.6L815.4,820.9L815.5,823.1L815.5,825.4L815.5,827.6L815.5,829.9L815.5,832.1L815.5,834.4L815.5,836.6L815.6,838.9L815.6,841.1L815.6,843.4L815.6,845.6L815.7,847.9L815.7,850.1L815.7,852.4L815.8,854.6L815.8,856.9L815.8,859.1L815.9,861.4L815.9,863.6L816.0,865.9L816.0,868.1L816.1,870.4L816.1,872.6"/>
<path stroke-width="4.7" stroke-dasharray="0.01 3.3" d="M1090.1,812.4L1090.2,814.6L1090.3,816.8L1090.3,818.9L1090.4,821.1L1090.5,823.2L1090.5,825.4L1090.6,827.5L1090.7,829.7L1090.8,831.8L1090.9,833.9L1090.9,836.0L1091.0,838.1L1091.1,840.2L1091.2,842.3L1091.3,844.4L1091.4,846.5L1091.5,848.6L1091.6,850.6L1091.7,852.7L1091.8,854.7L1091.9,856.8L1092.0,858.8L1092.1,860.8L1092.2,862.8L1092.3,864.8L1092.4,866.8L1092.6,868.8L1092.7,870.8L1092.8,872.8L1092.9,874.8L1093.0,876.7L1093.2,878.7L1093.3,880.7L1093.4,882.6L1093.5,884.6L1093.7,886.6L1093.8,888.5L1093.9,890.5L1094.1,892.4L1094.2,894.4L1094.3,896.3L1094.5,898.2L1094.6,900.2L1094.8,902.1L1094.9,904.1L1095.0,906.0L1095.2,908.0L1095.3,909.9L1095.5,911.9L1095.6,913.8L1095.8,915.8L1095.9,917.7L1096.0,919.6L1096.2,921.5L1096.3,923.4L1096.5,925.3L1096.6,927.2L1096.7,929.0L1096.9,930.9L1097.0,932.7L1097.1,934.4L1097.2,936.2L1097.4,937.9L1097.5,939.6L1097.6,941.3L1097.7,942.9L1097.8,944.5L1097.9,946.1 M1168.3,800.5L1168.4,802.5L1168.5,804.4L1168.5,806.3L1168.6,808.2L1168.7,810.1L1168.8,812.0L1168.8,813.9L1168.9,815.8L1169.0,817.7L1169.1,819.6L1169.2,821.5L1169.2,823.4L1169.3,825.3L1169.4,827.2L1169.5,829.0L1169.6,830.9L1169.7,832.8L1169.8,834.7L1169.9,836.5L1170.0,838.4L1170.1,840.3L1170.2,842.1L1170.3,844.0L1170.4,845.9L1170.5,847.7L1170.6,849.6L1170.7,851.5L1170.8,853.3L1170.9,855.2L1171.0,857.1L1171.1,858.9L1171.2,860.8L1171.3,862.6L1171.4,864.5L1171.6,866.4L1171.7,868.3L1171.8,870.1L1171.9,872.0L1172.0,873.9L1172.1,875.8L1172.2,877.6L1172.3,879.5L1172.4,881.4L1172.5,883.3L1172.7,885.2L1172.8,887.1L1172.9,889.0L1173.0,890.9L1173.1,892.8L1173.2,894.7L1173.3,896.6L1173.4,898.5L1173.5,900.4L1173.6,902.3L1173.7,904.3L1173.9,906.2L1174.0,908.1L1174.1,910.0L1174.2,911.9L1174.3,913.8L1174.4,915.7L1174.5,917.5L1174.6,919.3L1174.7,921.1L1174.8,922.9L1174.9,924.6L1175.0,926.3L1175.1,927.9L1175.2,929.5L1175.3,931.1L1175.4,932.6L1175.5,934.1L1175.6,935.5 M1242.1,776.7L1242.2,779.0L1242.2,781.3L1242.3,783.6L1242.4,785.9L1242.4,788.1L1242.5,790.4L1242.6,792.6L1242.6,794.9L1242.7,797.1L1242.8,799.3L1242.8,801.5L1242.9,803.7L1243.0,805.9L1243.1,808.0L1243.1,810.2L1243.2,812.3L1243.3,814.4L1243.4,816.5L1243.4,818.5L1243.5,820.6L1243.6,822.6L1243.7,824.6L1243.8,826.6L1243.8,828.6L1243.9,830.5L1244.0,832.5L1244.1,834.4L1244.2,836.3L1244.3,838.1L1244.4,840.0L1244.4,841.9L1244.5,843.7L1244.6,845.6L1244.7,847.4L1244.8,849.2L1244.9,851.0L1244.9,852.8L1245.0,854.6L1245.1,856.4L1245.2,858.2L1245.3,860.0L1245.4,861.8L1245.4,863.6L1245.5,865.4L1245.6,867.3L1245.7,869.1L1245.7,870.9L1245.8,872.7L1245.9,874.6L1246.0,876.4L1246.0,878.3L1246.1,880.2L1246.2,882.0L1246.2,883.9L1246.3,885.8L1246.4,887.7L1246.4,889.6L1246.5,891.5L1246.6,893.4L1246.6,895.3L1246.7,897.1L1246.8,899.0L1246.8,900.9L1246.9,902.7L1247.0,904.6L1247.0,906.4L1247.1,908.3L1247.2,910.1L1247.2,911.9L1247.3,913.7L1247.4,915.4L1247.5,917.2L1247.5,918.9L1247.6,920.6L1247.7,922.3L1247.8,923.9L1247.9,925.6 M1310.1,767.2L1310.2,769.5L1310.3,771.8L1310.3,774.0L1310.4,776.3L1310.4,778.6L1310.5,780.9L1310.5,783.2L1310.6,785.5L1310.7,787.8L1310.7,790.1L1310.8,792.3L1310.9,794.6L1310.9,796.9L1311.0,799.2L1311.1,801.4L1311.1,803.6L1311.2,805.9L1311.3,808.1L1311.3,810.2L1311.4,812.4L1311.5,814.5L1311.6,816.7L1311.7,818.7L1311.7,820.8L1311.8,822.8L1311.9,824.8L1312.0,826.8L1312.1,828.7L1312.1,830.6L1312.2,832.5L1312.3,834.3L1312.4,836.1L1312.5,837.9L1312.6,839.7L1312.7,841.4L1312.7,843.2L1312.8,844.9L1312.9,846.6L1313.0,848.3L1313.1,849.9L1313.2,851.6L1313.3,853.2L1313.4,854.8L1313.4,856.5L1313.5,858.1L1313.6,859.7L1313.7,861.3L1313.8,862.9L1313.9,864.5L1314.0,866.1L1314.0,867.7L1314.1,869.3L1314.2,871.0L1314.3,872.6L1314.4,874.2L1314.5,875.9L1314.5,877.5L1314.6,879.2L1314.7,880.9L1314.8,882.6L1314.8,884.3L1314.9,886.1L1315.0,887.8L1315.1,889.6L1315.1,891.4L1315.2,893.3L1315.2,895.2L1315.3,897.1L1315.4,899.0L1315.4,901.0L1315.5,903.0L1315.5,905.0L1315.6,907.0L1315.6,908.9L1315.7,910.7 M1373.5,748.1L1373.6,750.1L1373.6,752.2L1373.7,754.2L1373.8,756.2L1373.8,758.1L1373.9,760.1L1373.9,762.0L1374.0,763.9L1374.1,765.8L1374.1,767.6L1374.2,769.5L1374.3,771.3L1374.4,773.1L1374.4,774.9L1374.5,776.7L1374.6,778.5L1374.6,780.3L1374.7,782.0L1374.8,783.8L1374.9,785.5L1374.9,787.3L1375.0,789.0L1375.1,790.7L1375.1,792.5L1375.2,794.2L1375.3,795.9L1375.3,797.6L1375.4,799.4L1375.5,801.1L1375.5,802.8L1375.6,804.6L1375.6,806.3L1375.7,808.0L1375.7,809.8L1375.8,811.6L1375.8,813.3L1375.9,815.1L1375.9,816.9L1376.0,818.7L1376.0,820.5L1376.0,822.3L1376.1,824.0L1376.1,825.8L1376.2,827.6L1376.2,829.4L1376.3,831.1L1376.3,832.9L1376.4,834.6L1376.4,836.3L1376.5,838.0L1376.6,839.7L1376.7,841.4L1376.7,843.1L1376.8,844.8L1376.9,846.5L1377.0,848.1L1377.1,849.8L1377.2,851.5L1377.2,853.2L1377.3,854.8L1377.4,856.5L1377.5,858.2L1377.6,859.9L1377.7,861.6L1377.8,863.3L1377.9,865.1L1378.0,866.8L1378.1,868.6L1378.1,870.4L1378.2,872.2L1378.3,874.0L1378.4,875.9L1378.4,877.8L1378.5,879.7L1378.6,881.6L1378.6,883.6L1378.7,885.6L1378.7,887.6L1378.8,889.7L1378.8,891.7L1378.8,893.6L1378.9,895.5 M1433.3,738.6L1433.4,740.9L1433.4,743.2L1433.4,745.4L1433.5,747.6L1433.5,749.8L1433.6,752.0L1433.6,754.1L1433.7,756.1L1433.8,758.2L1433.8,760.2L1433.9,762.1L1433.9,764.0L1434.0,765.9L1434.1,767.8L1434.2,769.6L1434.2,771.3L1434.3,773.1L1434.4,774.8L1434.5,776.5L1434.5,778.2L1434.6,779.8L1434.7,781.4L1434.8,783.0L1434.9,784.6L1434.9,786.2L1435.0,787.8L1435.1,789.4L1435.2,790.9L1435.3,792.5L1435.4,794.1L1435.4,795.6L1435.5,797.2L1435.6,798.7L1435.7,800.3L1435.7,801.9L1435.8,803.5L1435.9,805.1L1435.9,806.7L1436.0,808.4L1436.1,810.0L1436.1,811.7L1436.2,813.4L1436.3,815.1L1436.3,816.9L1436.4,818.6L1436.4,820.3L1436.5,822.1L1436.5,823.8L1436.6,825.5L1436.6,827.2L1436.7,829.0L1436.7,830.7L1436.8,832.3L1436.8,834.0L1436.9,835.6L1437.0,837.2L1437.0,838.8L1437.1,840.4L1437.1,842.0L1437.2,843.5L1437.3,845.1L1437.3,846.7L1437.4,848.3L1437.4,850.0L1437.5,851.7L1437.6,853.4L1437.6,855.2L1437.7,857.1L1437.7,859.0L1437.7,861.0L1437.8,863.0L1437.8,865.1L1437.8,867.2L1437.9,869.3L1437.9,871.3L1437.9,873.3L1438.0,875.2L1438.0,877.0 M1489.2,648.9L1489.2,650.7L1489.3,652.4L1489.3,654.1L1489.3,655.9L1489.4,657.6L1489.4,659.4L1489.4,661.1L1489.4,662.8L1489.5,664.6L1489.5,666.3L1489.5,668.1L1489.6,669.8L1489.6,671.6L1489.6,673.3L1489.6,675.1L1489.7,676.9L1489.7,678.6L1489.7,680.4L1489.8,682.2L1489.8,684.0L1489.8,685.7L1489.8,687.5L1489.8,689.3L1489.9,691.1L1489.9,692.9L1489.9,694.7L1489.9,696.5L1490.0,698.3L1490.0,700.1L1490.0,701.9L1490.0,703.8L1490.0,705.6L1490.0,707.4L1490.1,709.2L1490.1,711.1L1490.1,712.9L1490.1,714.7L1490.1,716.5L1490.1,718.4L1490.1,720.2L1490.2,722.0L1490.2,723.8L1490.2,725.6L1490.2,727.4L1490.2,729.1L1490.2,730.9L1490.2,732.7L1490.2,734.4L1490.3,736.1L1490.3,737.8L1490.3,739.5L1490.3,741.2L1490.3,742.9L1490.3,744.5L1490.4,746.1L1490.4,747.7L1490.4,749.3L1490.4,750.9L1490.5,752.4L1490.5,753.9L1490.5,755.4L1490.5,756.9L1490.6,758.3L1490.6,759.7L1490.6,761.1L1490.7,762.4L1490.7,763.7L1490.7,765.0L1490.8,766.3L1490.8,767.6L1490.9,768.8L1490.9,770.0L1491.0,771.2L1491.0,772.4L1491.0,773.6L1491.1,774.7L1491.1,775.9L1491.2,777.0L1491.2,778.2L1491.3,779.3L1491.3,780.5L1491.4,781.6L1491.4,782.8L1491.5,783.9L1491.5,785.1L1491.5,786.3L1491.6,787.4L1491.6,788.6L1491.7,789.8L1491.7,791.0L1491.7,792.2L1491.8,793.4L1491.8,794.6L1491.9,795.8L1491.9,797.0L1491.9,798.2L1492.0,799.4L1492.0,800.7L1492.0,801.9L1492.1,803.1L1492.1,804.2L1492.1,805.4L1492.2,806.6L1492.2,807.8L1492.2,809.0L1492.3,810.1L1492.3,811.3L1492.3,812.4L1492.4,813.5L1492.4,814.7L1492.4,815.8L1492.5,816.9L1492.5,818.1L1492.5,819.2L1492.5,820.4L1492.6,821.5L1492.6,822.7L1492.6,823.9L1492.7,825.1L1492.7,826.4L1492.7,827.7L1492.8,828.9L1492.8,830.3L1492.8,831.6L1492.8,833.0L1492.9,834.4L1492.9,835.9L1492.9,837.4L1493.0,838.9L1493.0,840.4L1493.0,841.9L1493.1,843.4L1493.1,844.9L1493.1,846.4L1493.2,847.8L1493.2,849.2"/>
<path stroke-width="4.7" stroke-dasharray="0.01 4.5" d="M912.8,732.7L912.9,734.8L912.9,736.8L913.0,738.9L913.0,741.0L913.0,743.0L913.1,745.1L913.1,747.1L913.1,749.2L913.2,751.3L913.2,753.3L913.2,755.4L913.2,757.4L913.2,759.5L913.3,761.5L913.3,763.6L913.3,765.7L913.3,767.7L913.3,769.8L913.3,771.8L913.3,773.9L913.4,775.9L913.4,778.0L913.4,780.0L913.4,782.1L913.4,784.1L913.4,786.2L913.4,788.2L913.4,790.3L913.5,792.3L913.5,794.4L913.5,796.4L913.5,798.5L913.5,800.5L913.5,802.6L913.5,804.6L913.6,806.6L913.6,808.7L913.6,810.8L913.6,812.8L913.6,814.9L913.7,816.9L913.7,819.0L913.7,821.0L913.7,823.1L913.8,825.1L913.8,827.2L913.8,829.2L913.9,831.3L913.9,833.3L913.9,835.4L914.0,837.5L914.0,839.5L914.1,841.6L914.1,843.6L914.2,845.7L914.2,847.8 M1004.1,708.6L1004.1,710.7L1004.2,712.8L1004.2,715.0L1004.2,717.1L1004.3,719.3L1004.3,721.4L1004.3,723.6L1004.3,725.8L1004.4,727.9L1004.4,730.1L1004.4,732.3L1004.4,734.5L1004.5,736.7L1004.5,738.9L1004.5,741.1L1004.5,743.3L1004.5,745.5L1004.6,747.7L1004.6,749.9L1004.6,752.1L1004.6,754.3L1004.6,756.5L1004.6,758.7L1004.7,760.9L1004.7,763.2L1004.7,765.4L1004.7,767.6L1004.7,769.8L1004.7,772.1L1004.8,774.3L1004.8,776.5L1004.8,778.7L1004.8,781.0L1004.8,783.2L1004.8,785.4L1004.9,787.6L1004.9,789.8L1004.9,792.1L1004.9,794.3L1005.0,796.5L1005.0,798.7L1005.0,800.9L1005.0,803.1L1005.1,805.3L1005.1,807.5L1005.1,809.8L1005.1,811.9L1005.2,814.1L1005.2,816.3L1005.2,818.5L1005.3,820.7L1005.3,822.9L1005.4,825.1L1005.4,827.2L1005.5,829.4"/>
<path stroke-width="4.7" stroke-dasharray="0.01 6.0" d="M1088.8,682.3L1088.7,684.4L1088.7,686.5L1088.7,688.7L1088.7,690.8L1088.7,693.0L1088.7,695.1L1088.7,697.3L1088.7,699.4L1088.7,701.6L1088.7,703.8L1088.7,706.0L1088.7,708.1L1088.7,710.3L1088.7,712.5L1088.7,714.7L1088.7,716.9L1088.7,719.1L1088.7,721.3L1088.8,723.5L1088.8,725.7L1088.8,728.0L1088.8,730.2L1088.8,732.4L1088.8,734.6L1088.8,736.9L1088.8,739.1L1088.9,741.3L1088.9,743.5L1088.9,745.8L1088.9,748.0L1088.9,750.2L1089.0,752.5L1089.0,754.7L1089.0,757.0L1089.0,759.2L1089.1,761.4L1089.1,763.7L1089.1,765.9L1089.2,768.1L1089.2,770.4L1089.2,772.6L1089.3,774.8L1089.3,777.1L1089.3,779.3L1089.4,781.5L1089.4,783.8L1089.5,786.0L1089.5,788.2L1089.6,790.4L1089.6,792.6L1089.7,794.8L1089.7,797.1L1089.8,799.3L1089.8,801.5L1089.9,803.7L1089.9,805.9L1090.0,808.0L1090.1,810.2L1090.1,812.4 M1167.0,652.7L1167.0,654.7L1167.0,656.6L1167.0,658.6L1167.0,660.6L1167.0,662.5L1167.0,664.5L1167.0,666.5L1167.0,668.5L1167.0,670.5L1167.0,672.5L1167.0,674.5L1167.0,676.5L1167.0,678.5L1167.0,680.5L1167.0,682.5L1167.0,684.5L1167.0,686.5L1167.0,688.5L1167.0,690.5L1167.0,692.5L1167.0,694.6L1167.0,696.6L1167.0,698.6L1167.0,700.6L1167.0,702.6L1167.0,704.7L1167.0,706.7L1167.0,708.7L1167.0,710.7L1167.0,712.7L1167.0,714.8L1167.0,716.8L1167.0,718.8L1167.0,720.8L1167.0,722.9L1167.0,724.9L1167.0,726.9L1167.1,728.9L1167.1,731.0L1167.1,733.0L1167.1,735.0L1167.1,737.0L1167.1,739.1L1167.1,741.1L1167.2,743.1L1167.2,745.1L1167.2,747.1L1167.2,749.1L1167.2,751.2L1167.3,753.2L1167.3,755.2L1167.3,757.2L1167.3,759.2L1167.4,761.2L1167.4,763.2L1167.4,765.2L1167.5,767.2L1167.5,769.2L1167.6,771.2L1167.6,773.1L1167.6,775.1L1167.7,777.1L1167.7,779.1L1167.8,781.0L1167.8,783.0L1167.9,785.0L1167.9,786.9L1168.0,788.9L1168.0,790.8L1168.1,792.8L1168.1,794.7L1168.2,796.7L1168.3,798.6L1168.3,800.5 M1240.7,619.4L1240.8,621.7L1240.8,624.0L1240.8,626.3L1240.8,628.6L1240.8,630.9L1240.8,633.1L1240.8,635.4L1240.8,637.7L1240.8,639.9L1240.8,642.2L1240.8,644.4L1240.8,646.6L1240.8,648.9L1240.8,651.1L1240.8,653.3L1240.8,655.6L1240.8,657.8L1240.8,660.0L1240.8,662.2L1240.8,664.4L1240.8,666.6L1240.8,668.9L1240.8,671.1L1240.8,673.3L1240.8,675.5L1240.8,677.7L1240.8,679.9L1240.8,682.1L1240.8,684.3L1240.9,686.5L1240.9,688.7L1240.9,690.9L1240.9,693.1L1240.9,695.3L1240.9,697.5L1240.9,699.7L1240.9,701.9L1240.9,704.1L1241.0,706.3L1241.0,708.5L1241.0,710.7L1241.0,713.0L1241.0,715.2L1241.1,717.4L1241.1,719.6L1241.1,721.9L1241.1,724.1L1241.2,726.4L1241.2,728.6L1241.2,730.9L1241.2,733.1L1241.3,735.4L1241.3,737.6L1241.3,739.9L1241.4,742.2L1241.4,744.5L1241.5,746.8L1241.5,749.1L1241.5,751.4L1241.6,753.7L1241.6,756.0L1241.7,758.3L1241.7,760.6L1241.8,762.9L1241.8,765.2L1241.9,767.5L1241.9,769.8L1242.0,772.1L1242.1,774.4L1242.1,776.7 M1308.7,581.9L1308.8,584.1L1308.8,586.4L1308.8,588.6L1308.8,590.8L1308.8,593.0L1308.8,595.3L1308.8,597.5L1308.8,599.7L1308.8,602.0L1308.8,604.2L1308.8,606.4L1308.8,608.7L1308.8,610.9L1308.8,613.1L1308.8,615.4L1308.8,617.6L1308.8,619.8L1308.8,622.1L1308.8,624.3L1308.8,626.5L1308.8,628.8L1308.8,631.0L1308.8,633.3L1308.8,635.5L1308.8,637.7L1308.8,640.0L1308.8,642.2L1308.8,644.4L1308.8,646.7L1308.8,648.9L1308.8,651.1L1308.8,653.4L1308.8,655.6L1308.8,657.8L1308.9,660.1L1308.9,662.3L1308.9,664.5L1308.9,666.8L1308.9,669.0L1308.9,671.3L1308.9,673.5L1308.9,675.7L1308.9,678.0L1309.0,680.2L1309.0,682.4L1309.0,684.7L1309.0,686.9L1309.0,689.1L1309.0,691.4L1309.1,693.6L1309.1,695.8L1309.1,698.0L1309.1,700.3L1309.1,702.5L1309.2,704.7L1309.2,707.0L1309.2,709.2L1309.2,711.4L1309.3,713.7L1309.3,715.9L1309.3,718.1L1309.3,720.3L1309.4,722.6L1309.4,724.8L1309.4,727.0L1309.5,729.2L1309.5,731.5L1309.5,733.7L1309.6,735.9L1309.6,738.1L1309.6,740.3L1309.7,742.6L1309.7,744.8L1309.7,747.0L1309.8,749.3L1309.8,751.5L1309.9,753.7L1309.9,756.0L1310.0,758.2L1310.0,760.5L1310.0,762.7L1310.1,765.0L1310.1,767.2"/>
<path stroke-width="4.7" stroke-dasharray="0.01 8.0" d="M1372.2,535.6L1372.1,537.9L1372.1,540.2L1372.1,542.4L1372.1,544.7L1372.1,546.9L1372.1,549.2L1372.1,551.4L1372.1,553.7L1372.1,555.9L1372.1,558.1L1372.1,560.4L1372.1,562.6L1372.1,564.8L1372.1,567.0L1372.1,569.2L1372.1,571.4L1372.1,573.6L1372.2,575.8L1372.2,578.0L1372.2,580.2L1372.2,582.4L1372.2,584.5L1372.2,586.7L1372.2,588.9L1372.2,591.1L1372.2,593.3L1372.2,595.4L1372.2,597.6L1372.2,599.8L1372.2,602.0L1372.2,604.1L1372.2,606.3L1372.2,608.5L1372.2,610.6L1372.2,612.8L1372.2,615.0L1372.2,617.2L1372.2,619.3L1372.2,621.5L1372.3,623.7L1372.3,625.9L1372.3,628.0L1372.3,630.2L1372.3,632.4L1372.3,634.6L1372.3,636.8L1372.3,639.0L1372.3,641.2L1372.3,643.4L1372.4,645.6L1372.4,647.8L1372.4,650.0L1372.4,652.2L1372.4,654.4L1372.4,656.6L1372.4,658.9L1372.4,661.1L1372.5,663.4L1372.5,665.6L1372.5,667.9L1372.5,670.1L1372.5,672.4L1372.5,674.6L1372.5,676.9L1372.6,679.2L1372.6,681.5L1372.6,683.8L1372.6,686.0L1372.6,688.3L1372.7,690.6L1372.7,692.9L1372.7,695.2L1372.7,697.5L1372.7,699.8L1372.8,702.0L1372.8,704.3L1372.8,706.6L1372.8,708.9L1372.9,711.1L1372.9,713.4L1372.9,715.6L1373.0,717.9L1373.0,720.1L1373.0,722.3L1373.1,724.6L1373.1,726.8L1373.1,729.0L1373.2,731.1L1373.2,733.3L1373.3,735.5L1373.3,737.6L1373.3,739.7L1373.4,741.8L1373.4,743.9L1373.5,746.0L1373.5,748.1 M1431.9,471.9L1432.0,474.2L1432.0,476.5L1432.0,478.9L1432.0,481.2L1432.0,483.5L1432.0,485.8L1432.0,488.2L1432.0,490.5L1432.0,492.8L1432.0,495.1L1432.0,497.5L1432.0,499.8L1432.0,502.1L1432.0,504.4L1432.0,506.8L1432.0,509.1L1432.0,511.4L1432.0,513.8L1432.0,516.1L1432.0,518.4L1432.0,520.8L1432.0,523.1L1432.0,525.4L1432.0,527.8L1432.0,530.1L1432.0,532.4L1432.0,534.8L1432.0,537.1L1432.0,539.4L1432.0,541.8L1432.0,544.1L1432.0,546.4L1432.0,548.8L1432.0,551.1L1432.0,553.4L1432.0,555.8L1432.0,558.1L1432.0,560.4L1432.0,562.8L1432.0,565.1L1432.0,567.5L1432.0,569.8L1432.0,572.1L1432.0,574.5L1432.0,576.8L1432.0,579.1L1432.0,581.5L1432.1,583.8L1432.1,586.1L1432.1,588.4L1432.1,590.8L1432.1,593.1L1432.1,595.4L1432.1,597.8L1432.1,600.1L1432.1,602.4L1432.1,604.8L1432.1,607.1L1432.1,609.4L1432.2,611.7L1432.2,614.1L1432.2,616.4L1432.2,618.7L1432.2,621.0L1432.2,623.3L1432.2,625.7L1432.2,628.0L1432.3,630.3L1432.3,632.6L1432.3,634.9L1432.3,637.3L1432.3,639.6L1432.3,641.9L1432.3,644.2L1432.4,646.5L1432.4,648.8L1432.4,651.1L1432.4,653.4L1432.4,655.7L1432.4,658.1L1432.5,660.4L1432.5,662.7L1432.5,665.0L1432.5,667.3L1432.5,669.6L1432.6,672.0L1432.6,674.3L1432.6,676.6L1432.6,679.0L1432.6,681.3L1432.7,683.6L1432.7,686.0L1432.7,688.4L1432.7,690.7L1432.8,693.1L1432.8,695.5L1432.8,697.9L1432.8,700.3L1432.9,702.7L1432.9,705.1L1432.9,707.5L1432.9,709.9L1433.0,712.3L1433.0,714.8L1433.0,717.2L1433.0,719.6L1433.1,722.0L1433.1,724.4L1433.1,726.8L1433.2,729.2L1433.2,731.6L1433.2,734.0L1433.3,736.3L1433.3,738.6 M1487.8,379.6L1487.9,381.3L1487.9,383.0L1487.9,384.8L1487.9,386.5L1487.9,388.3L1487.9,390.0L1487.9,391.8L1487.9,393.5L1487.9,395.2L1487.9,397.0L1487.9,398.7L1487.9,400.5L1487.9,402.2L1487.9,404.0L1487.9,405.7L1487.9,407.5L1487.9,409.2L1487.9,411.0L1487.9,412.7L1487.9,414.5L1487.9,416.2L1487.9,418.0L1487.9,419.7L1487.9,421.5L1487.9,423.2L1487.9,425.0L1487.9,426.7L1487.9,428.5L1487.9,430.2L1487.9,432.0L1487.9,433.7L1487.9,435.5L1487.9,437.2L1487.9,439.0L1487.9,440.7L1487.9,442.5L1487.9,444.2L1487.9,446.0L1487.9,447.8L1487.9,449.5L1487.9,451.3L1487.9,453.0L1487.9,454.8L1487.9,456.5L1487.9,458.3L1487.9,460.0L1487.9,461.8L1487.9,463.5L1487.9,465.3L1487.9,467.1L1487.9,468.8L1487.9,470.6L1487.9,472.3L1487.9,474.1L1487.9,475.8L1487.9,477.6L1487.9,479.3L1487.9,481.1L1487.9,482.9L1487.9,484.6L1487.9,486.4L1487.9,488.1L1487.9,489.9L1487.9,491.6L1487.9,493.4L1487.9,495.1L1488.0,496.9L1488.0,498.7L1488.0,500.4L1488.0,502.2L1488.0,503.9L1488.0,505.7L1488.0,507.4L1488.0,509.2L1488.0,510.9L1488.0,512.7L1488.0,514.5L1488.0,516.2L1488.0,518.0L1488.0,519.7L1488.0,521.5L1488.0,523.2L1488.0,525.0L1488.0,526.7L1488.0,528.5L1488.0,530.3L1488.1,532.0L1488.1,533.8L1488.1,535.5L1488.1,537.3L1488.1,539.0L1488.1,540.8L1488.1,542.5L1488.1,544.3L1488.1,546.0L1488.1,547.8L1488.1,549.5L1488.1,551.3L1488.2,553.0L1488.2,554.8L1488.2,556.6L1488.2,558.3L1488.2,560.1L1488.2,561.8L1488.2,563.6L1488.2,565.3L1488.2,567.1L1488.3,568.8L1488.3,570.6L1488.3,572.3L1488.3,574.1L1488.3,575.8L1488.3,577.6L1488.3,579.3L1488.4,581.0L1488.4,582.8L1488.4,584.5L1488.4,586.3L1488.4,588.0L1488.4,589.8L1488.4,591.5L1488.5,593.3L1488.5,595.0L1488.5,596.8L1488.5,598.5L1488.5,600.3L1488.6,602.0L1488.6,603.7L1488.6,605.5L1488.6,607.2L1488.6,609.0L1488.7,610.7L1488.7,612.5L1488.7,614.2L1488.7,615.9L1488.7,617.7L1488.8,619.4L1488.8,621.2L1488.8,622.9L1488.8,624.6L1488.9,626.4L1488.9,628.1L1488.9,629.8L1488.9,631.6L1489.0,633.3L1489.0,635.0L1489.0,636.8L1489.0,638.5L1489.1,640.3L1489.1,642.0L1489.1,643.7L1489.2,645.5L1489.2,647.2L1489.2,648.9"/>
<path stroke-width="3.6" d="M1540.1,130 L1540.1,440"/>
<path stroke-width="4.0" d="M1540.4,436 L1540.45,640"/>
<path stroke-width="4.6" d="M1540.45,640 L1540.5,700 L1540.8,876.6"/>
<path stroke-width="4.8" d="M1540.5,640 L1541.1,700 L1542.1,790 L1543.1,840 L1544.1,880 L1544.5,911.6"/>
<path stroke="none" fill="#000" d="M1544.6,898.2 H1549.9 V911.6 H1544.6 Z"/>
<path stroke-width="4.6" d="M1549.8,897.7 L1550.2,934 L1551.4,941 L1551.6,1040 L1552.2,1046.5 L1553.8,1050 L1557.5,1051.3"/>
</g>
<g opacity="0.999">
<text transform="translate(297.4,889.5) rotate(-40)" font-size="15.28">n=1</text>
<text transform="translate(487.5,832.5) rotate(-40)" font-size="15.28">n=2</text>
<text transform="translate(606.4,812.4) rotate(-40)" font-size="15.28">n=3</text>
<text transform="translate(717.7,783.8) rotate(-40)" font-size="15.28">n=4</text>
<text transform="translate(822.4,757.9) rotate(-40)" font-size="15.28">n=5</text>
<text transform="translate(920.5,732.9) rotate(-40)" font-size="15.28">n=6</text>
<text transform="translate(1011.8,708.8) rotate(-40)" font-size="15.28">n=7</text>
<text transform="translate(1096.4,682.5) rotate(-40)" font-size="15.28">n=8</text>
<text transform="translate(1174.6,652.9) rotate(-40)" font-size="15.28">n=9</text>
<text transform="translate(1248.4,619.6) rotate(-40)" font-size="15.28">n=10</text>
<text transform="translate(1316.4,582.1) rotate(-40)" font-size="15.28">n=11</text>
<text transform="translate(1379.8,535.8) rotate(-40)" font-size="15.28">n=12</text>
<text transform="translate(1439.6,472.1) rotate(-40)" font-size="15.28">n=13</text>
<text transform="translate(1495.5,379.8) rotate(-40)" font-size="15.28">n=14</text>
</g>
<rect x="225.5" y="144.5" width="1395" height="924" fill="none" stroke="#000" stroke-width="1.11"/>
<g stroke="#000" stroke-width="5.9"><line x1="332" y1="1068.5" x2="332" y2="1085.0"/><line x1="519" y1="1068.5" x2="519" y2="1085.0"/><line x1="707" y1="1068.5" x2="707" y2="1085.0"/><line x1="894" y1="1068.5" x2="894" y2="1085.0"/><line x1="1081" y1="1068.5" x2="1081" y2="1085.0"/><line x1="1268" y1="1068.5" x2="1268" y2="1085.0"/><line x1="1456" y1="1068.5" x2="1456" y2="1085.0"/><line x1="238" y1="1068.5" x2="238" y2="1079.0"/><line x1="285" y1="1068.5" x2="285" y2="1079.0"/><line x1="379" y1="1068.5" x2="379" y2="1079.0"/><line x1="426" y1="1068.5" x2="426" y2="1079.0"/><line x1="472" y1="1068.5" x2="472" y2="1079.0"/><line x1="566" y1="1068.5" x2="566" y2="1079.0"/><line x1="613" y1="1068.5" x2="613" y2="1079.0"/><line x1="660" y1="1068.5" x2="660" y2="1079.0"/><line x1="753" y1="1068.5" x2="753" y2="1079.0"/><line x1="800" y1="1068.5" x2="800" y2="1079.0"/><line x1="847" y1="1068.5" x2="847" y2="1079.0"/><line x1="941" y1="1068.5" x2="941" y2="1079.0"/><line x1="987" y1="1068.5" x2="987" y2="1079.0"/><line x1="1034" y1="1068.5" x2="1034" y2="1079.0"/><line x1="1128" y1="1068.5" x2="1128" y2="1079.0"/><line x1="1175" y1="1068.5" x2="1175" y2="1079.0"/><line x1="1221" y1="1068.5" x2="1221" y2="1079.0"/><line x1="1315" y1="1068.5" x2="1315" y2="1079.0"/><line x1="1362" y1="1068.5" x2="1362" y2="1079.0"/><line x1="1409" y1="1068.5" x2="1409" y2="1079.0"/><line x1="1502" y1="1068.5" x2="1502" y2="1079.0"/><line x1="1549" y1="1068.5" x2="1549" y2="1079.0"/><line x1="1596" y1="1068.5" x2="1596" y2="1079.0"/><line x1="208.0" y1="1051" x2="225.5" y2="1051"/><line x1="208.0" y1="879" x2="225.5" y2="879"/><line x1="208.0" y1="706" x2="225.5" y2="706"/><line x1="208.0" y1="534" x2="225.5" y2="534"/><line x1="208.0" y1="361" x2="225.5" y2="361"/><line x1="208.0" y1="189" x2="225.5" y2="189"/><line x1="214.0" y1="1017" x2="225.5" y2="1017"/><line x1="214.0" y1="982" x2="225.5" y2="982"/><line x1="214.0" y1="948" x2="225.5" y2="948"/><line x1="214.0" y1="913" x2="225.5" y2="913"/><line x1="214.0" y1="844" x2="225.5" y2="844"/><line x1="214.0" y1="810" x2="225.5" y2="810"/><line x1="214.0" y1="775" x2="225.5" y2="775"/><line x1="214.0" y1="741" x2="225.5" y2="741"/><line x1="214.0" y1="672" x2="225.5" y2="672"/><line x1="214.0" y1="637" x2="225.5" y2="637"/><line x1="214.0" y1="603" x2="225.5" y2="603"/><line x1="214.0" y1="568" x2="225.5" y2="568"/><line x1="214.0" y1="499" x2="225.5" y2="499"/><line x1="214.0" y1="465" x2="225.5" y2="465"/><line x1="214.0" y1="430" x2="225.5" y2="430"/><line x1="214.0" y1="396" x2="225.5" y2="396"/><line x1="214.0" y1="327" x2="225.5" y2="327"/><line x1="214.0" y1="292" x2="225.5" y2="292"/><line x1="214.0" y1="258" x2="225.5" y2="258"/><line x1="214.0" y1="223" x2="225.5" y2="223"/><line x1="214.0" y1="154" x2="225.5" y2="154"/></g>
<g opacity="0.999">
<g font-size="36.11" text-anchor="middle">
<text x="332.4" y="1117.4">1357.8</text>
<text x="519.4" y="1117.4">1358.0</text>
<text x="707.4" y="1117.4">1358.2</text>
<text x="894.4" y="1117.4">1358.4</text>
<text x="1081.4" y="1117.4">1358.6</text>
<text x="1268.4" y="1117.4">1358.8</text>
<text x="1456.4" y="1117.4">1359.0</text>
</g>
<g font-size="36.11" text-anchor="end">
<text x="203.1" y="1065.1">0</text>
<text x="203.1" y="893.1">100</text>
<text x="203.1" y="720.1">200</text>
<text x="203.1" y="548.1">300</text>
<text x="203.1" y="375.1">400</text>
<text x="203.1" y="203.1">500</text>
</g>
<text x="922.5" y="1160" font-size="41.67" text-anchor="middle">Age (Myr)</text>
<text transform="translate(118.9,607.4) rotate(-90)" font-size="41.67" text-anchor="middle">O1 period (days)</text>
</g>
<rect x="235.75" y="154.5" width="306.9" height="91.8" rx="2.9" fill="#fff" fill-opacity="0.8" stroke="#ccc" stroke-opacity="0.8" stroke-width="1.39"/>
<line x1="243.0" y1="171.0" x2="286.0" y2="171.0" stroke="#000" stroke-width="2.1"/>
<circle cx="265.4" cy="171.3" r="2.3" fill="#000"/>
<circle cx="265.5" cy="216.4" r="6.95" fill="#ffff00" fill-opacity="0.2" stroke="#ffff00" stroke-opacity="0.2" stroke-width="1.39"/>
<g font-size="20.83" opacity="0.999">
<text x="302.8" y="178.6">m1.50_z0.0020</text>
<text x="302.8" y="209.8">intersection w/ P,L,T,R</text>
<text x="302.8" y="233.1">STRICTLY defined</text>
</g>
</svg>
</body></html>
